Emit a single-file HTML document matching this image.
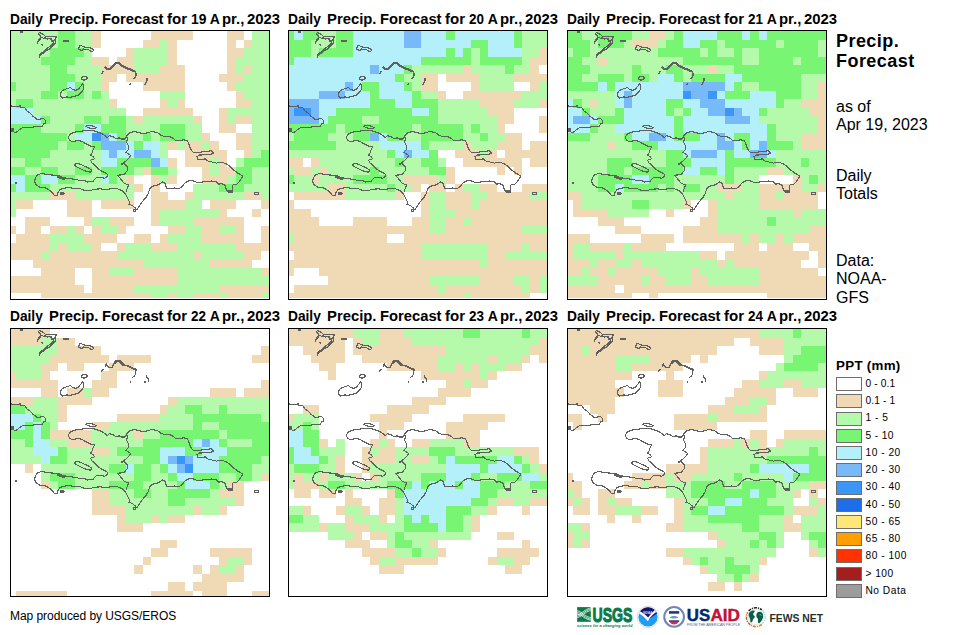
<!DOCTYPE html>
<html><head><meta charset="utf-8"><title>Precip Forecast</title>
<style>
html,body{margin:0;padding:0;background:#fff;}
body{width:970px;height:635px;position:relative;overflow:hidden;font-family:"Liberation Sans",sans-serif;color:#000;}
.p{position:absolute;width:260px;}
.p svg{position:absolute;left:0;top:0;}
.t{position:absolute;font-weight:bold;font-size:14px;white-space:nowrap;line-height:16px;height:16px;width:280px;}
.t span{position:absolute;top:0;display:inline-block;transform-origin:0 0;}
.r{position:absolute;white-space:nowrap;}
.sw{position:absolute;left:836px;width:24px;height:11.4px;border:1px solid #828282;}
.lb{position:absolute;left:865.5px;font-size:10.2px;white-space:nowrap;line-height:12px;}
</style></head><body>

<div class="t" style="left:10px;top:11px"><span style="left:-0.4px;transform:scaleX(0.98)">Daily</span><span style="left:38.8px;transform:scaleX(1.06)">Precip.</span><span style="left:92.0px;transform:scaleX(1.054)">Forecast</span><span style="left:157.2px;transform:scaleX(1.075)">for</span><span style="left:181.0px;transform:scaleX(0.99)">19</span><span style="left:199.8px;transform:scaleX(1.0)">A</span><span style="left:211.6px;transform:scaleX(1.064)">pr.,</span><span style="left:237.0px;transform:scaleX(1.062)">2023</span></div>
<div class="p" style="left:10px;top:30px;height:270px"><svg width="260" height="270" viewBox="0 0 260 270" shape-rendering="crispEdges"><rect x="1" y="1" width="47" height="9" fill="#b4faaa"/><rect x="48" y="1" width="17" height="9" fill="#78f573"/><rect x="65" y="1" width="17" height="9" fill="#b4faaa"/><rect x="82" y="1" width="9" height="9" fill="#f0dab5"/><rect x="141" y="1" width="42" height="9" fill="#f0dab5"/><rect x="217" y="1" width="17" height="9" fill="#f0dab5"/><rect x="242" y="1" width="17" height="9" fill="#b4faaa"/><rect x="1" y="10" width="47" height="8" fill="#b4faaa"/><rect x="48" y="10" width="17" height="8" fill="#78f573"/><rect x="65" y="10" width="17" height="8" fill="#b4faaa"/><rect x="82" y="10" width="9" height="8" fill="#f0dab5"/><rect x="133" y="10" width="17" height="8" fill="#f0dab5"/><rect x="150" y="10" width="8" height="8" fill="#b4faaa"/><rect x="158" y="10" width="9" height="8" fill="#f0dab5"/><rect x="217" y="10" width="9" height="8" fill="#f0dab5"/><rect x="234" y="10" width="8" height="8" fill="#f0dab5"/><rect x="242" y="10" width="17" height="8" fill="#b4faaa"/><rect x="1" y="18" width="39" height="9" fill="#b4faaa"/><rect x="40" y="18" width="34" height="9" fill="#78f573"/><rect x="74" y="18" width="8" height="9" fill="#b4faaa"/><rect x="116" y="18" width="8" height="9" fill="#f0dab5"/><rect x="124" y="18" width="34" height="9" fill="#b4faaa"/><rect x="158" y="18" width="9" height="9" fill="#f0dab5"/><rect x="217" y="18" width="17" height="9" fill="#f0dab5"/><rect x="234" y="18" width="25" height="9" fill="#b4faaa"/><rect x="1" y="27" width="30" height="8" fill="#b4faaa"/><rect x="31" y="27" width="34" height="8" fill="#78f573"/><rect x="65" y="27" width="17" height="8" fill="#b4faaa"/><rect x="82" y="27" width="17" height="8" fill="#f0dab5"/><rect x="107" y="27" width="17" height="8" fill="#f0dab5"/><rect x="124" y="27" width="34" height="8" fill="#b4faaa"/><rect x="158" y="27" width="9" height="8" fill="#f0dab5"/><rect x="217" y="27" width="9" height="8" fill="#f0dab5"/><rect x="226" y="27" width="33" height="8" fill="#b4faaa"/><rect x="1" y="35" width="39" height="9" fill="#b4faaa"/><rect x="40" y="35" width="17" height="9" fill="#78f573"/><rect x="57" y="35" width="34" height="9" fill="#b4faaa"/><rect x="91" y="35" width="33" height="9" fill="#f0dab5"/><rect x="124" y="35" width="26" height="9" fill="#b4faaa"/><rect x="150" y="35" width="25" height="9" fill="#f0dab5"/><rect x="217" y="35" width="9" height="9" fill="#f0dab5"/><rect x="226" y="35" width="8" height="9" fill="#b4faaa"/><rect x="234" y="35" width="8" height="9" fill="#f0dab5"/><rect x="242" y="35" width="17" height="9" fill="#b4faaa"/><rect x="1" y="44" width="39" height="8" fill="#b4faaa"/><rect x="40" y="44" width="25" height="8" fill="#78f573"/><rect x="65" y="44" width="26" height="8" fill="#b4faaa"/><rect x="91" y="44" width="16" height="8" fill="#f0dab5"/><rect x="116" y="44" width="59" height="8" fill="#f0dab5"/><rect x="209" y="44" width="25" height="8" fill="#f0dab5"/><rect x="234" y="44" width="25" height="8" fill="#b4faaa"/><rect x="1" y="52" width="5" height="9" fill="#78f573"/><rect x="6" y="52" width="34" height="9" fill="#b4faaa"/><rect x="40" y="52" width="17" height="9" fill="#78f573"/><rect x="57" y="52" width="8" height="9" fill="#b4f0fa"/><rect x="65" y="52" width="9" height="9" fill="#78f573"/><rect x="74" y="52" width="17" height="9" fill="#b4faaa"/><rect x="91" y="52" width="8" height="9" fill="#f0dab5"/><rect x="133" y="52" width="42" height="9" fill="#f0dab5"/><rect x="217" y="52" width="9" height="9" fill="#f0dab5"/><rect x="226" y="52" width="33" height="9" fill="#b4faaa"/><rect x="1" y="61" width="30" height="8" fill="#b4faaa"/><rect x="31" y="61" width="17" height="8" fill="#78f573"/><rect x="48" y="61" width="9" height="8" fill="#b4faaa"/><rect x="57" y="61" width="17" height="8" fill="#78f573"/><rect x="74" y="61" width="8" height="8" fill="#b4faaa"/><rect x="82" y="61" width="9" height="8" fill="#78f573"/><rect x="91" y="61" width="8" height="8" fill="#b4faaa"/><rect x="150" y="61" width="25" height="8" fill="#b4faaa"/><rect x="226" y="61" width="8" height="8" fill="#f0dab5"/><rect x="234" y="61" width="25" height="8" fill="#b4faaa"/><rect x="1" y="69" width="5" height="9" fill="#b4faaa"/><rect x="6" y="69" width="17" height="9" fill="#78f573"/><rect x="23" y="69" width="76" height="9" fill="#b4faaa"/><rect x="99" y="69" width="8" height="9" fill="#f0dab5"/><rect x="150" y="69" width="8" height="9" fill="#f0dab5"/><rect x="158" y="69" width="9" height="9" fill="#b4faaa"/><rect x="167" y="69" width="8" height="9" fill="#f0dab5"/><rect x="226" y="69" width="16" height="9" fill="#f0dab5"/><rect x="242" y="69" width="17" height="9" fill="#b4faaa"/><rect x="1" y="78" width="22" height="8" fill="#b4f0fa"/><rect x="23" y="78" width="93" height="8" fill="#b4faaa"/><rect x="133" y="78" width="50" height="8" fill="#f0dab5"/><rect x="209" y="78" width="8" height="8" fill="#f0dab5"/><rect x="217" y="78" width="42" height="8" fill="#b4faaa"/><rect x="1" y="86" width="30" height="8" fill="#b4f0fa"/><rect x="31" y="86" width="9" height="8" fill="#78f573"/><rect x="40" y="86" width="34" height="8" fill="#b4faaa"/><rect x="74" y="86" width="17" height="8" fill="#78f573"/><rect x="91" y="86" width="8" height="8" fill="#b4faaa"/><rect x="99" y="86" width="17" height="8" fill="#78f573"/><rect x="116" y="86" width="8" height="8" fill="#b4faaa"/><rect x="124" y="86" width="9" height="8" fill="#f0dab5"/><rect x="133" y="86" width="50" height="8" fill="#b4faaa"/><rect x="183" y="86" width="9" height="8" fill="#f0dab5"/><rect x="209" y="86" width="8" height="8" fill="#f0dab5"/><rect x="217" y="86" width="9" height="8" fill="#b4faaa"/><rect x="226" y="86" width="16" height="8" fill="#f0dab5"/><rect x="242" y="86" width="17" height="8" fill="#b4faaa"/><rect x="1" y="94" width="30" height="9" fill="#78f573"/><rect x="31" y="94" width="34" height="9" fill="#b4faaa"/><rect x="65" y="94" width="9" height="9" fill="#78f573"/><rect x="74" y="94" width="17" height="9" fill="#b4f0fa"/><rect x="91" y="94" width="25" height="9" fill="#78f573"/><rect x="116" y="94" width="34" height="9" fill="#b4faaa"/><rect x="150" y="94" width="25" height="9" fill="#78f573"/><rect x="175" y="94" width="17" height="9" fill="#b4faaa"/><rect x="209" y="94" width="17" height="9" fill="#f0dab5"/><rect x="242" y="94" width="17" height="9" fill="#b4faaa"/><rect x="1" y="103" width="56" height="8" fill="#78f573"/><rect x="57" y="103" width="8" height="8" fill="#b4faaa"/><rect x="65" y="103" width="17" height="8" fill="#b4f0fa"/><rect x="82" y="103" width="9" height="8" fill="#3c96f5"/><rect x="91" y="103" width="8" height="8" fill="#78b9fa"/><rect x="99" y="103" width="8" height="8" fill="#b4f0fa"/><rect x="107" y="103" width="9" height="8" fill="#78f573"/><rect x="116" y="103" width="17" height="8" fill="#b4faaa"/><rect x="133" y="103" width="8" height="8" fill="#78f573"/><rect x="141" y="103" width="9" height="8" fill="#b4faaa"/><rect x="150" y="103" width="25" height="8" fill="#78f573"/><rect x="175" y="103" width="17" height="8" fill="#b4faaa"/><rect x="192" y="103" width="8" height="8" fill="#f0dab5"/><rect x="226" y="103" width="16" height="8" fill="#f0dab5"/><rect x="242" y="103" width="17" height="8" fill="#b4faaa"/><rect x="1" y="111" width="47" height="9" fill="#78f573"/><rect x="48" y="111" width="9" height="9" fill="#b4faaa"/><rect x="57" y="111" width="17" height="9" fill="#78f573"/><rect x="74" y="111" width="8" height="9" fill="#b4faaa"/><rect x="82" y="111" width="9" height="9" fill="#78f573"/><rect x="91" y="111" width="25" height="9" fill="#78b9fa"/><rect x="116" y="111" width="8" height="9" fill="#b4f0fa"/><rect x="124" y="111" width="9" height="9" fill="#78f573"/><rect x="133" y="111" width="17" height="9" fill="#b4f0fa"/><rect x="150" y="111" width="8" height="9" fill="#b4faaa"/><rect x="158" y="111" width="9" height="9" fill="#f0dab5"/><rect x="167" y="111" width="8" height="9" fill="#b4faaa"/><rect x="175" y="111" width="17" height="9" fill="#f0dab5"/><rect x="192" y="111" width="8" height="9" fill="#b4faaa"/><rect x="200" y="111" width="9" height="9" fill="#f0dab5"/><rect x="226" y="111" width="16" height="9" fill="#f0dab5"/><rect x="242" y="111" width="17" height="9" fill="#b4faaa"/><rect x="1" y="120" width="39" height="8" fill="#78f573"/><rect x="40" y="120" width="51" height="8" fill="#b4faaa"/><rect x="91" y="120" width="8" height="8" fill="#b4f0fa"/><rect x="99" y="120" width="8" height="8" fill="#78b9fa"/><rect x="107" y="120" width="17" height="8" fill="#b4f0fa"/><rect x="124" y="120" width="17" height="8" fill="#78b9fa"/><rect x="141" y="120" width="9" height="8" fill="#b4f0fa"/><rect x="150" y="120" width="8" height="8" fill="#b4faaa"/><rect x="175" y="120" width="42" height="8" fill="#f0dab5"/><rect x="234" y="120" width="8" height="8" fill="#f0dab5"/><rect x="242" y="120" width="9" height="8" fill="#b4faaa"/><rect x="251" y="120" width="8" height="8" fill="#78f573"/><rect x="1" y="128" width="14" height="9" fill="#b4faaa"/><rect x="15" y="128" width="16" height="9" fill="#78f573"/><rect x="31" y="128" width="60" height="9" fill="#b4faaa"/><rect x="91" y="128" width="16" height="9" fill="#b4f0fa"/><rect x="107" y="128" width="34" height="9" fill="#78f573"/><rect x="141" y="128" width="9" height="9" fill="#78b9fa"/><rect x="150" y="128" width="8" height="9" fill="#b4f0fa"/><rect x="158" y="128" width="9" height="9" fill="#f0dab5"/><rect x="175" y="128" width="25" height="9" fill="#f0dab5"/><rect x="200" y="128" width="9" height="9" fill="#b4faaa"/><rect x="209" y="128" width="8" height="9" fill="#f0dab5"/><rect x="226" y="128" width="8" height="9" fill="#b4faaa"/><rect x="234" y="128" width="25" height="9" fill="#78f573"/><rect x="1" y="137" width="14" height="8" fill="#78f573"/><rect x="15" y="137" width="16" height="8" fill="#b4faaa"/><rect x="31" y="137" width="17" height="8" fill="#78f573"/><rect x="48" y="137" width="17" height="8" fill="#b4faaa"/><rect x="65" y="137" width="17" height="8" fill="#78f573"/><rect x="82" y="137" width="9" height="8" fill="#b4faaa"/><rect x="91" y="137" width="33" height="8" fill="#78f573"/><rect x="124" y="137" width="9" height="8" fill="#b4faaa"/><rect x="133" y="137" width="8" height="8" fill="#f0dab5"/><rect x="141" y="137" width="17" height="8" fill="#78f573"/><rect x="158" y="137" width="9" height="8" fill="#b4faaa"/><rect x="192" y="137" width="8" height="8" fill="#f0dab5"/><rect x="200" y="137" width="9" height="8" fill="#b4faaa"/><rect x="209" y="137" width="17" height="8" fill="#f0dab5"/><rect x="226" y="137" width="16" height="8" fill="#78f573"/><rect x="242" y="137" width="17" height="8" fill="#b4faaa"/><rect x="1" y="145" width="14" height="9" fill="#b4f0fa"/><rect x="15" y="145" width="16" height="9" fill="#78f573"/><rect x="31" y="145" width="17" height="9" fill="#b4f0fa"/><rect x="48" y="145" width="17" height="9" fill="#78f573"/><rect x="65" y="145" width="26" height="9" fill="#b4faaa"/><rect x="91" y="145" width="8" height="9" fill="#b4f0fa"/><rect x="99" y="145" width="8" height="9" fill="#78f573"/><rect x="107" y="145" width="9" height="9" fill="#b4faaa"/><rect x="116" y="145" width="8" height="9" fill="#f0dab5"/><rect x="141" y="145" width="9" height="9" fill="#f0dab5"/><rect x="150" y="145" width="8" height="9" fill="#b4faaa"/><rect x="158" y="145" width="9" height="9" fill="#f0dab5"/><rect x="192" y="145" width="25" height="9" fill="#f0dab5"/><rect x="217" y="145" width="9" height="9" fill="#b4faaa"/><rect x="226" y="145" width="16" height="9" fill="#78f573"/><rect x="242" y="145" width="17" height="9" fill="#b4faaa"/><rect x="1" y="154" width="5" height="8" fill="#78f573"/><rect x="6" y="154" width="9" height="8" fill="#b4f0fa"/><rect x="15" y="154" width="25" height="8" fill="#78f573"/><rect x="40" y="154" width="84" height="8" fill="#b4faaa"/><rect x="124" y="154" width="9" height="8" fill="#f0dab5"/><rect x="141" y="154" width="9" height="8" fill="#f0dab5"/><rect x="183" y="154" width="26" height="8" fill="#b4faaa"/><rect x="209" y="154" width="25" height="8" fill="#78f573"/><rect x="234" y="154" width="25" height="8" fill="#b4faaa"/><rect x="1" y="162" width="39" height="8" fill="#b4faaa"/><rect x="40" y="162" width="25" height="8" fill="#f0dab5"/><rect x="65" y="162" width="59" height="8" fill="#b4faaa"/><rect x="141" y="162" width="17" height="8" fill="#f0dab5"/><rect x="175" y="162" width="8" height="8" fill="#f0dab5"/><rect x="183" y="162" width="51" height="8" fill="#b4faaa"/><rect x="234" y="162" width="17" height="8" fill="#f0dab5"/><rect x="251" y="162" width="8" height="8" fill="#b4faaa"/><rect x="1" y="170" width="5" height="9" fill="#b4faaa"/><rect x="6" y="170" width="17" height="9" fill="#f0dab5"/><rect x="57" y="170" width="25" height="9" fill="#f0dab5"/><rect x="91" y="170" width="33" height="9" fill="#f0dab5"/><rect x="141" y="170" width="34" height="9" fill="#f0dab5"/><rect x="175" y="170" width="17" height="9" fill="#b4faaa"/><rect x="200" y="170" width="26" height="9" fill="#f0dab5"/><rect x="251" y="170" width="8" height="9" fill="#f0dab5"/><rect x="1" y="179" width="5" height="8" fill="#b4faaa"/><rect x="57" y="179" width="25" height="8" fill="#f0dab5"/><rect x="141" y="179" width="9" height="8" fill="#f0dab5"/><rect x="150" y="179" width="59" height="8" fill="#b4faaa"/><rect x="209" y="179" width="8" height="8" fill="#f0dab5"/><rect x="242" y="179" width="9" height="8" fill="#f0dab5"/><rect x="15" y="187" width="25" height="9" fill="#f0dab5"/><rect x="74" y="187" width="8" height="9" fill="#f0dab5"/><rect x="82" y="187" width="17" height="9" fill="#b4faaa"/><rect x="99" y="187" width="25" height="9" fill="#f0dab5"/><rect x="141" y="187" width="9" height="9" fill="#f0dab5"/><rect x="150" y="187" width="33" height="9" fill="#b4faaa"/><rect x="183" y="187" width="51" height="9" fill="#f0dab5"/><rect x="1" y="196" width="5" height="8" fill="#f0dab5"/><rect x="15" y="196" width="16" height="8" fill="#f0dab5"/><rect x="40" y="196" width="17" height="8" fill="#f0dab5"/><rect x="57" y="196" width="8" height="8" fill="#b4faaa"/><rect x="65" y="196" width="9" height="8" fill="#f0dab5"/><rect x="82" y="196" width="9" height="8" fill="#f0dab5"/><rect x="91" y="196" width="16" height="8" fill="#b4faaa"/><rect x="107" y="196" width="9" height="8" fill="#f0dab5"/><rect x="158" y="196" width="17" height="8" fill="#f0dab5"/><rect x="175" y="196" width="17" height="8" fill="#b4faaa"/><rect x="192" y="196" width="17" height="8" fill="#f0dab5"/><rect x="209" y="196" width="17" height="8" fill="#b4faaa"/><rect x="226" y="196" width="8" height="8" fill="#f0dab5"/><rect x="251" y="196" width="8" height="8" fill="#f0dab5"/><rect x="6" y="204" width="34" height="9" fill="#f0dab5"/><rect x="40" y="204" width="34" height="9" fill="#b4faaa"/><rect x="74" y="204" width="33" height="9" fill="#f0dab5"/><rect x="124" y="204" width="17" height="9" fill="#f0dab5"/><rect x="150" y="204" width="8" height="9" fill="#f0dab5"/><rect x="158" y="204" width="34" height="9" fill="#b4faaa"/><rect x="192" y="204" width="42" height="9" fill="#f0dab5"/><rect x="251" y="204" width="8" height="9" fill="#f0dab5"/><rect x="1" y="213" width="39" height="8" fill="#f0dab5"/><rect x="40" y="213" width="8" height="8" fill="#b4faaa"/><rect x="48" y="213" width="9" height="8" fill="#f0dab5"/><rect x="57" y="213" width="25" height="8" fill="#b4faaa"/><rect x="82" y="213" width="9" height="8" fill="#f0dab5"/><rect x="107" y="213" width="9" height="8" fill="#f0dab5"/><rect x="116" y="213" width="25" height="8" fill="#b4faaa"/><rect x="141" y="213" width="26" height="8" fill="#f0dab5"/><rect x="167" y="213" width="59" height="8" fill="#b4faaa"/><rect x="226" y="213" width="33" height="8" fill="#f0dab5"/><rect x="1" y="221" width="30" height="9" fill="#f0dab5"/><rect x="31" y="221" width="9" height="9" fill="#b4faaa"/><rect x="40" y="221" width="67" height="9" fill="#f0dab5"/><rect x="107" y="221" width="76" height="9" fill="#b4faaa"/><rect x="183" y="221" width="9" height="9" fill="#f0dab5"/><rect x="192" y="221" width="42" height="9" fill="#b4faaa"/><rect x="234" y="221" width="17" height="9" fill="#f0dab5"/><rect x="23" y="230" width="110" height="8" fill="#f0dab5"/><rect x="133" y="230" width="67" height="8" fill="#b4faaa"/><rect x="200" y="230" width="42" height="8" fill="#f0dab5"/><rect x="31" y="238" width="34" height="8" fill="#f0dab5"/><rect x="82" y="238" width="17" height="8" fill="#f0dab5"/><rect x="99" y="238" width="25" height="8" fill="#b4faaa"/><rect x="124" y="238" width="43" height="8" fill="#f0dab5"/><rect x="167" y="238" width="84" height="8" fill="#b4faaa"/><rect x="251" y="238" width="8" height="8" fill="#f0dab5"/><rect x="1" y="246" width="64" height="9" fill="#f0dab5"/><rect x="82" y="246" width="85" height="9" fill="#f0dab5"/><rect x="167" y="246" width="92" height="9" fill="#b4faaa"/><rect x="1" y="255" width="73" height="8" fill="#f0dab5"/><rect x="82" y="255" width="42" height="8" fill="#f0dab5"/><rect x="124" y="255" width="85" height="8" fill="#b4faaa"/><rect x="209" y="255" width="50" height="8" fill="#f0dab5"/><rect x="31" y="263" width="110" height="5" fill="#f0dab5"/><rect x="141" y="263" width="17" height="5" fill="#b4faaa"/><rect x="158" y="263" width="9" height="5" fill="#f0dab5"/><rect x="167" y="263" width="16" height="5" fill="#b4faaa"/><rect x="183" y="263" width="26" height="5" fill="#f0dab5"/><rect x="209" y="263" width="8" height="5" fill="#b4faaa"/><rect x="217" y="263" width="34" height="5" fill="#f0dab5"/><rect x="251" y="263" width="8" height="5" fill="#b4faaa"/></svg>
<svg width="260" height="270" viewBox="0 0 260 270" shape-rendering="crispEdges"><path d="M58.3 107.9 L59.8 104.2 L64.3 102.3 L70.3 101.2 L77.7 100.5 L83.7 100.8 L89.7 102.7 L94.2 105.0 L97.2 107.9 L99.4 105.7 L103.1 106.8 L106.1 108.7 L109.1 107.9 L112.1 109.7 L115.1 109.1 L116.6 105.7 L119.6 102.7 L124.1 101.7 L128.6 102.3 L133.0 103.8 L137.5 102.7 L141.3 101.7 L143.7 101.7 L147.4 102.7 L151.2 105.3 L154.9 106.8 L158.6 106.2 L162.4 107.9 L165.4 110.2 L169.8 110.9 L173.6 109.7 L177.3 110.6 L178.8 113.2 L179.6 116.9 L181.1 119.9 L184.0 122.9 L187.8 122.9 L192.3 121.7 L198.2 121.4 L201.2 120.7 L203.5 122.9 L201.2 124.1 L195.3 124.7 L189.3 125.1 L187.0 126.6 L187.8 129.6 L192.3 129.6 L195.3 128.9 L198.2 131.1 L202.7 132.2 L206.5 133.1 L210.9 132.2 L215.4 133.4 L219.2 135.6 L222.9 139.3 L226.6 142.3 L230.4 144.6 L232.6 146.1 L231.1 149.1 L228.9 152.0 L226.6 154.3 L222.9 155.0 L222.2 158.8 L222.9 161.8 L220.7 162.5 L217.7 161.8 L216.2 158.8 L214.7 155.0 L211.7 153.5 L208.7 154.3 L206.5 152.0 L201.2 151.0 L196.7 151.6 L192.3 152.0 L187.8 152.8 L184.8 151.3 L181.1 150.5 L177.3 151.3 L174.3 153.5 L172.1 156.5 L169.1 158.8 L164.6 158.0 L160.9 158.8 L157.1 158.8 L155.6 155.8 L154.9 152.8 L152.7 152.0 L149.7 154.0 L147.4 155.0 L143.7 155.8 L140.7 157.3 L139.2 160.3 L138.5 163.3 L136.2 167.0 L133.2 170.7 L130.2 174.5 L128.0 178.2 L127.1 180.0 L124.8 177.5 L121.8 175.2 L118.8 174.5 L119.6 172.2 L118.1 169.2 L116.6 166.2 L115.1 163.3 L111.4 160.3 L107.6 158.8 L101.6 158.8 L95.7 159.5 L89.7 158.8 L83.7 159.5 L79.2 161.0 L74.7 160.3 L70.3 158.8 L64.3 158.8 L59.8 157.6 L55.3 158.0 L50.1 159.5 L47.8 162.5 L47.1 165.5 L44.8 165.9 L43.3 164.0 L40.4 161.0 L37.4 158.8 L33.6 157.3 L29.9 157.3 L26.2 155.0 L24.7 152.0 L25.4 147.6 L27.7 144.6 L32.1 143.5 L37.4 144.6 L44.8 145.3 L48.6 145.3 L47.1 146.8 L50.8 148.6 L54.6 149.8 L55.3 148.0 L59.8 148.6 L65.8 149.5 L70.3 150.5 L74.7 150.5 L77.7 152.0 L83.0 151.3 L85.9 148.0 L91.9 147.1 L94.2 148.3 L96.4 147.6 L97.9 144.6 L95.7 143.1 L91.2 140.8 L88.2 138.6 L85.2 135.6 L81.5 132.6 L80.7 130.1 L84.5 128.9 L83.0 126.6 L80.7 125.1 L82.2 122.9 L83.0 119.9 L84.5 116.9 L82.2 116.9 L78.5 115.1 L74.7 113.2 L71.7 111.2 L67.3 110.6 L62.8 111.7 L59.8 110.6 Z M116.6 105.7 L117.3 108.7 L116.6 112.4 L118.1 115.4 L118.1 119.9 L115.8 122.1 L118.1 123.6 L120.8 125.6 L118.8 128.1 L115.8 131.1 L111.4 134.1 L114.3 133.7 L117.3 136.6 L117.3 140.8 L115.1 143.1 L113.6 144.6 L107.6 145.3 L109.9 148.0 L112.1 150.5 L113.6 152.8 L116.6 154.3 L118.8 155.0 L117.3 158.0 L116.1 161.5 M64.3 134.9 L66.5 133.4 L70.3 134.1 L74.7 136.3 L78.5 137.8 L81.5 140.1 L80.7 142.3 L77.0 141.6 L73.2 140.1 L68.8 137.8 L65.8 136.6 Z M75.5 96.3 L77.7 95.2 L83.0 96.0 L86.7 97.8 L83.7 98.7 L79.2 97.9 Z M50.1 163.0 L52.3 162.4 L54.6 163.3 L53.1 164.3 L50.8 164.2 Z M0.0 75.9 L3.7 76.2 L7.4 76.2 L10.2 75.9 L11.1 77.7 L14.8 77.7 L16.7 80.8 L20.4 83.3 L22.9 86.1 L25.4 87.9 L27.2 89.5 L30.3 89.2 L32.2 88.2 L34.3 89.2 L35.7 91.0 L35.6 93.5 L33.4 93.8 L32.5 96.3 L23.5 96.7 L23.2 97.5 L12.7 97.5 L8.7 100.3 L6.2 102.5 L3.7 102.2 M244.9 162.2 L248.5 162.2 L248.5 164.6 L244.9 164.6 Z M123.8 179.4 L125.6 179.4 L125.6 181.2 L123.8 181.2 Z M10.5 1.2 L12.6 1.2 L12.6 2.7 L10.5 2.7 Z M28.3 3.6 L29.4 2.5 L31.9 3.6 L34.1 5.1 L35.5 6.5 L38.0 6.9 L41.6 6.6 L46.7 6.5 L45.6 7.9 L44.9 10.1 L45.3 12.3 L44.9 14.1 L43.1 15.5 L41.3 17.3 L39.5 19.1 L37.3 20.2 L35.5 21.3 L33.7 23.1 L31.5 24.2 L30.1 25.6 L29.7 27.4 L29.0 27.1 L29.7 24.9 L30.8 23.4 L33.0 22.0 L35.2 20.2 L37.0 18.4 L38.8 17.3 L40.9 15.5 L42.7 14.1 L43.8 12.3 L43.1 10.8 L41.6 11.2 L40.9 9.7 L41.6 8.3 L39.5 8.3 L37.3 9.0 L35.5 7.9 L33.3 8.3 L31.5 7.2 L30.5 8.7 L29.0 10.8 L27.2 13.3 L27.2 11.9 L28.7 10.1 L30.1 7.9 L30.8 6.5 L29.4 5.1 Z M31.5 14.3 L32.6 14.8 L32.6 16.2 M68.3 19.1 L69.8 15.5 L71.9 15.9 L74.1 17.0 L77.0 17.3 L79.9 17.7 L82.8 19.1 L83.9 20.6 L82.0 21.6 L79.9 20.9 L78.4 19.1 L75.6 19.3 L73.4 18.9 L71.9 20.6 L69.8 19.5 Z M71.7 47.5 L74.0 46.0 L77.0 47.1 L77.0 49.0 L74.0 50.1 L72.0 49.3 Z M50.8 62.8 L52.3 60.5 L56.1 59.0 L60.5 57.5 L62.8 59.8 L65.8 60.2 L68.8 59.0 L70.3 56.8 L72.5 53.8 L73.7 54.6 L73.2 59.8 L70.3 63.5 L68.0 65.8 L63.5 66.2 L60.5 67.3 L56.8 67.0 L52.3 68.0 L50.5 65.8 Z" fill="none" stroke="#5e5e5e" stroke-width="1.15" stroke-linejoin="round"/><path d="M5.4 152.8 L6.9 152.8" fill="none" stroke="#606060" stroke-width="1.6"/><path d="M53.2 10.8 L59.0 11.0" fill="none" stroke="#606060" stroke-width="1.6"/><path d="M95.2 36.7 L96.7 39.1 L99.6 39.1 L101.7 37.0 L103.9 34.8 L106.8 32.9 L109.7 33.4 L111.8 35.8 L114.7 37.0 L117.6 38.4 L121.2 39.8 L124.8 41.3" fill="none" stroke="#606060" stroke-width="2.3"/><path d="M124.8 41.3 L126.4 43.9 L125.3 47.1 L123.4 49.2" fill="none" stroke="#606060" stroke-width="1.6"/><path d="M91.6 44.2 L93.2 41.3" fill="none" stroke="#606060" stroke-width="1.6"/><path d="M119.5 55.4 L120.5 54.3 L121.5 55.4" fill="none" stroke="#606060" stroke-width="1.2"/><path d="M134.6 55.4 L136.4 51.7 L137.4 47.8" fill="none" stroke="#606060" stroke-width="1.6"/><path d="M47.5 145.6 L50.8 147.1 L54.6 148.6" fill="none" stroke="#606060" stroke-width="2.2"/><path d="M50.5 163.4 L54.1 163.4" fill="none" stroke="#606060" stroke-width="2.0"/><path d="M2.4 97.8 L2.5 101.8" fill="none" stroke="#606060" stroke-width="2.6"/><path d="M217.4 160.6 L222.9 162.1" fill="none" stroke="#606060" stroke-width="2.4"/><path d="M111.4 109.1 L115.1 109.4" fill="none" stroke="#606060" stroke-width="2.0"/><rect x="0.5" y="0.5" width="259" height="269" fill="none" stroke="#000" stroke-width="1" shape-rendering="crispEdges"/></svg></div>
<div class="t" style="left:288px;top:11px"><span style="left:-0.4px;transform:scaleX(0.98)">Daily</span><span style="left:38.8px;transform:scaleX(1.06)">Precip.</span><span style="left:92.0px;transform:scaleX(1.054)">Forecast</span><span style="left:157.2px;transform:scaleX(1.075)">for</span><span style="left:181.3px;transform:scaleX(0.96)">20</span><span style="left:199.8px;transform:scaleX(1.0)">A</span><span style="left:211.6px;transform:scaleX(1.064)">pr.,</span><span style="left:237.0px;transform:scaleX(1.062)">2023</span></div>
<div class="p" style="left:288px;top:30px;height:270px"><svg width="260" height="270" viewBox="0 0 260 270" shape-rendering="crispEdges"><rect x="1" y="1" width="5" height="9" fill="#78f573"/><rect x="6" y="1" width="9" height="9" fill="#b4f0fa"/><rect x="15" y="1" width="16" height="9" fill="#78f573"/><rect x="31" y="1" width="17" height="9" fill="#b4faaa"/><rect x="48" y="1" width="17" height="9" fill="#78f573"/><rect x="65" y="1" width="51" height="9" fill="#b4f0fa"/><rect x="116" y="1" width="17" height="9" fill="#78b9fa"/><rect x="133" y="1" width="25" height="9" fill="#b4f0fa"/><rect x="158" y="1" width="9" height="9" fill="#78f573"/><rect x="167" y="1" width="59" height="9" fill="#b4f0fa"/><rect x="226" y="1" width="8" height="9" fill="#78f573"/><rect x="234" y="1" width="25" height="9" fill="#b4faaa"/><rect x="1" y="10" width="22" height="8" fill="#78f573"/><rect x="23" y="10" width="25" height="8" fill="#b4faaa"/><rect x="48" y="10" width="17" height="8" fill="#78f573"/><rect x="65" y="10" width="51" height="8" fill="#b4f0fa"/><rect x="116" y="10" width="17" height="8" fill="#78b9fa"/><rect x="133" y="10" width="50" height="8" fill="#b4f0fa"/><rect x="183" y="10" width="17" height="8" fill="#78f573"/><rect x="200" y="10" width="26" height="8" fill="#b4f0fa"/><rect x="226" y="10" width="8" height="8" fill="#78f573"/><rect x="234" y="10" width="25" height="8" fill="#b4faaa"/><rect x="1" y="18" width="22" height="9" fill="#78f573"/><rect x="23" y="18" width="8" height="9" fill="#b4faaa"/><rect x="31" y="18" width="34" height="9" fill="#78f573"/><rect x="65" y="18" width="93" height="9" fill="#b4f0fa"/><rect x="158" y="18" width="9" height="9" fill="#78f573"/><rect x="167" y="18" width="8" height="9" fill="#b4f0fa"/><rect x="175" y="18" width="8" height="9" fill="#78f573"/><rect x="183" y="18" width="9" height="9" fill="#b4faaa"/><rect x="192" y="18" width="8" height="9" fill="#78f573"/><rect x="200" y="18" width="34" height="9" fill="#b4f0fa"/><rect x="234" y="18" width="17" height="9" fill="#b4faaa"/><rect x="251" y="18" width="8" height="9" fill="#f0dab5"/><rect x="1" y="27" width="5" height="8" fill="#78f573"/><rect x="6" y="27" width="127" height="8" fill="#b4f0fa"/><rect x="133" y="27" width="50" height="8" fill="#78f573"/><rect x="183" y="27" width="9" height="8" fill="#b4faaa"/><rect x="192" y="27" width="42" height="8" fill="#78f573"/><rect x="234" y="27" width="8" height="8" fill="#b4faaa"/><rect x="242" y="27" width="17" height="8" fill="#f0dab5"/><rect x="1" y="35" width="81" height="9" fill="#b4f0fa"/><rect x="82" y="35" width="9" height="9" fill="#78b9fa"/><rect x="91" y="35" width="25" height="9" fill="#b4f0fa"/><rect x="116" y="35" width="8" height="9" fill="#78f573"/><rect x="124" y="35" width="51" height="9" fill="#b4faaa"/><rect x="175" y="35" width="8" height="9" fill="#f0dab5"/><rect x="183" y="35" width="34" height="9" fill="#b4faaa"/><rect x="217" y="35" width="9" height="9" fill="#78f573"/><rect x="226" y="35" width="16" height="9" fill="#b4faaa"/><rect x="242" y="35" width="9" height="9" fill="#f0dab5"/><rect x="1" y="44" width="106" height="8" fill="#b4f0fa"/><rect x="107" y="44" width="9" height="8" fill="#78f573"/><rect x="116" y="44" width="17" height="8" fill="#b4faaa"/><rect x="133" y="44" width="17" height="8" fill="#f0dab5"/><rect x="158" y="44" width="34" height="8" fill="#f0dab5"/><rect x="192" y="44" width="34" height="8" fill="#b4faaa"/><rect x="226" y="44" width="33" height="8" fill="#f0dab5"/><rect x="1" y="52" width="56" height="9" fill="#b4f0fa"/><rect x="57" y="52" width="8" height="9" fill="#78b9fa"/><rect x="65" y="52" width="9" height="9" fill="#b4f0fa"/><rect x="74" y="52" width="17" height="9" fill="#78f573"/><rect x="91" y="52" width="25" height="9" fill="#b4f0fa"/><rect x="116" y="52" width="8" height="9" fill="#78f573"/><rect x="124" y="52" width="9" height="9" fill="#b4faaa"/><rect x="133" y="52" width="17" height="9" fill="#f0dab5"/><rect x="183" y="52" width="9" height="9" fill="#f0dab5"/><rect x="192" y="52" width="34" height="9" fill="#b4faaa"/><rect x="242" y="52" width="9" height="9" fill="#f0dab5"/><rect x="251" y="52" width="8" height="9" fill="#b4faaa"/><rect x="1" y="61" width="30" height="8" fill="#b4f0fa"/><rect x="31" y="61" width="26" height="8" fill="#78b9fa"/><rect x="57" y="61" width="25" height="8" fill="#b4f0fa"/><rect x="82" y="61" width="9" height="8" fill="#78f573"/><rect x="91" y="61" width="33" height="8" fill="#b4f0fa"/><rect x="124" y="61" width="9" height="8" fill="#78f573"/><rect x="133" y="61" width="17" height="8" fill="#b4faaa"/><rect x="150" y="61" width="8" height="8" fill="#f0dab5"/><rect x="175" y="61" width="59" height="8" fill="#f0dab5"/><rect x="234" y="61" width="25" height="8" fill="#b4faaa"/><rect x="1" y="69" width="30" height="9" fill="#78b9fa"/><rect x="31" y="69" width="51" height="9" fill="#b4f0fa"/><rect x="82" y="69" width="25" height="9" fill="#78f573"/><rect x="107" y="69" width="17" height="9" fill="#b4f0fa"/><rect x="124" y="69" width="26" height="9" fill="#78f573"/><rect x="150" y="69" width="42" height="9" fill="#b4faaa"/><rect x="192" y="69" width="34" height="9" fill="#f0dab5"/><rect x="226" y="69" width="25" height="9" fill="#b4faaa"/><rect x="251" y="69" width="8" height="9" fill="#f0dab5"/><rect x="1" y="78" width="5" height="8" fill="#78b9fa"/><rect x="6" y="78" width="17" height="8" fill="#3c96f5"/><rect x="23" y="78" width="8" height="8" fill="#78b9fa"/><rect x="31" y="78" width="17" height="8" fill="#b4f0fa"/><rect x="48" y="78" width="76" height="8" fill="#78f573"/><rect x="124" y="78" width="17" height="8" fill="#b4f0fa"/><rect x="141" y="78" width="9" height="8" fill="#78f573"/><rect x="150" y="78" width="50" height="8" fill="#b4faaa"/><rect x="200" y="78" width="26" height="8" fill="#f0dab5"/><rect x="1" y="86" width="30" height="8" fill="#78b9fa"/><rect x="31" y="86" width="9" height="8" fill="#b4f0fa"/><rect x="40" y="86" width="34" height="8" fill="#78f573"/><rect x="74" y="86" width="17" height="8" fill="#b4faaa"/><rect x="91" y="86" width="59" height="8" fill="#78f573"/><rect x="150" y="86" width="59" height="8" fill="#b4faaa"/><rect x="209" y="86" width="17" height="8" fill="#f0dab5"/><rect x="251" y="86" width="8" height="8" fill="#f0dab5"/><rect x="1" y="94" width="47" height="9" fill="#78f573"/><rect x="48" y="94" width="9" height="9" fill="#b4faaa"/><rect x="57" y="94" width="67" height="9" fill="#78f573"/><rect x="124" y="94" width="9" height="9" fill="#b4faaa"/><rect x="133" y="94" width="42" height="9" fill="#78f573"/><rect x="175" y="94" width="8" height="9" fill="#b4faaa"/><rect x="183" y="94" width="9" height="9" fill="#78f573"/><rect x="192" y="94" width="17" height="9" fill="#b4faaa"/><rect x="209" y="94" width="8" height="9" fill="#f0dab5"/><rect x="251" y="94" width="8" height="9" fill="#f0dab5"/><rect x="1" y="103" width="5" height="8" fill="#b4faaa"/><rect x="6" y="103" width="34" height="8" fill="#78f573"/><rect x="40" y="103" width="25" height="8" fill="#b4faaa"/><rect x="65" y="103" width="17" height="8" fill="#78f573"/><rect x="82" y="103" width="9" height="8" fill="#78b9fa"/><rect x="91" y="103" width="8" height="8" fill="#b4f0fa"/><rect x="99" y="103" width="17" height="8" fill="#78f573"/><rect x="116" y="103" width="17" height="8" fill="#b4faaa"/><rect x="133" y="103" width="42" height="8" fill="#78f573"/><rect x="175" y="103" width="17" height="8" fill="#b4faaa"/><rect x="192" y="103" width="8" height="8" fill="#78f573"/><rect x="200" y="103" width="17" height="8" fill="#b4faaa"/><rect x="217" y="103" width="17" height="8" fill="#f0dab5"/><rect x="1" y="111" width="47" height="9" fill="#78f573"/><rect x="48" y="111" width="43" height="9" fill="#b4faaa"/><rect x="91" y="111" width="42" height="9" fill="#b4f0fa"/><rect x="133" y="111" width="8" height="9" fill="#78f573"/><rect x="141" y="111" width="34" height="9" fill="#b4faaa"/><rect x="175" y="111" width="8" height="9" fill="#f0dab5"/><rect x="183" y="111" width="26" height="9" fill="#b4faaa"/><rect x="209" y="111" width="25" height="9" fill="#f0dab5"/><rect x="242" y="111" width="17" height="9" fill="#f0dab5"/><rect x="1" y="120" width="98" height="8" fill="#b4faaa"/><rect x="99" y="120" width="8" height="8" fill="#78f573"/><rect x="107" y="120" width="9" height="8" fill="#b4f0fa"/><rect x="116" y="120" width="8" height="8" fill="#78b9fa"/><rect x="124" y="120" width="17" height="8" fill="#b4f0fa"/><rect x="141" y="120" width="9" height="8" fill="#78f573"/><rect x="167" y="120" width="25" height="8" fill="#f0dab5"/><rect x="192" y="120" width="8" height="8" fill="#b4faaa"/><rect x="200" y="120" width="9" height="8" fill="#f0dab5"/><rect x="217" y="120" width="42" height="8" fill="#f0dab5"/><rect x="1" y="128" width="14" height="9" fill="#f0dab5"/><rect x="23" y="128" width="8" height="9" fill="#f0dab5"/><rect x="31" y="128" width="76" height="9" fill="#b4faaa"/><rect x="107" y="128" width="9" height="9" fill="#78f573"/><rect x="116" y="128" width="17" height="9" fill="#b4faaa"/><rect x="133" y="128" width="17" height="9" fill="#78f573"/><rect x="150" y="128" width="8" height="9" fill="#b4faaa"/><rect x="175" y="128" width="59" height="9" fill="#f0dab5"/><rect x="242" y="128" width="17" height="9" fill="#f0dab5"/><rect x="1" y="137" width="5" height="8" fill="#b4faaa"/><rect x="6" y="137" width="17" height="8" fill="#f0dab5"/><rect x="23" y="137" width="8" height="8" fill="#b4faaa"/><rect x="31" y="137" width="9" height="8" fill="#f0dab5"/><rect x="40" y="137" width="42" height="8" fill="#b4faaa"/><rect x="82" y="137" width="9" height="8" fill="#78f573"/><rect x="91" y="137" width="50" height="8" fill="#b4faaa"/><rect x="141" y="137" width="17" height="8" fill="#78f573"/><rect x="158" y="137" width="9" height="8" fill="#f0dab5"/><rect x="209" y="137" width="8" height="8" fill="#f0dab5"/><rect x="226" y="137" width="8" height="8" fill="#f0dab5"/><rect x="1" y="145" width="5" height="9" fill="#78f573"/><rect x="6" y="145" width="17" height="9" fill="#b4faaa"/><rect x="23" y="145" width="8" height="9" fill="#f0dab5"/><rect x="31" y="145" width="34" height="9" fill="#b4faaa"/><rect x="65" y="145" width="34" height="9" fill="#78f573"/><rect x="99" y="145" width="17" height="9" fill="#b4faaa"/><rect x="116" y="145" width="34" height="9" fill="#f0dab5"/><rect x="150" y="145" width="8" height="9" fill="#b4faaa"/><rect x="158" y="145" width="9" height="9" fill="#f0dab5"/><rect x="1" y="154" width="39" height="8" fill="#b4faaa"/><rect x="40" y="154" width="17" height="8" fill="#f0dab5"/><rect x="57" y="154" width="42" height="8" fill="#b4faaa"/><rect x="99" y="154" width="8" height="8" fill="#78f573"/><rect x="107" y="154" width="17" height="8" fill="#b4faaa"/><rect x="124" y="154" width="9" height="8" fill="#f0dab5"/><rect x="141" y="154" width="17" height="8" fill="#f0dab5"/><rect x="167" y="154" width="8" height="8" fill="#f0dab5"/><rect x="175" y="154" width="17" height="8" fill="#b4faaa"/><rect x="192" y="154" width="17" height="8" fill="#f0dab5"/><rect x="234" y="154" width="25" height="8" fill="#f0dab5"/><rect x="6" y="162" width="51" height="8" fill="#f0dab5"/><rect x="57" y="162" width="50" height="8" fill="#b4faaa"/><rect x="107" y="162" width="9" height="8" fill="#f0dab5"/><rect x="133" y="162" width="8" height="8" fill="#f0dab5"/><rect x="141" y="162" width="17" height="8" fill="#b4faaa"/><rect x="158" y="162" width="25" height="8" fill="#f0dab5"/><rect x="183" y="162" width="17" height="8" fill="#b4faaa"/><rect x="200" y="162" width="42" height="8" fill="#f0dab5"/><rect x="242" y="162" width="17" height="8" fill="#b4faaa"/><rect x="1" y="170" width="5" height="9" fill="#f0dab5"/><rect x="133" y="170" width="8" height="9" fill="#f0dab5"/><rect x="141" y="170" width="17" height="9" fill="#b4faaa"/><rect x="158" y="170" width="25" height="9" fill="#f0dab5"/><rect x="183" y="170" width="9" height="9" fill="#b4faaa"/><rect x="192" y="170" width="67" height="9" fill="#f0dab5"/><rect x="1" y="179" width="22" height="8" fill="#f0dab5"/><rect x="133" y="179" width="8" height="8" fill="#f0dab5"/><rect x="141" y="179" width="26" height="8" fill="#b4faaa"/><rect x="167" y="179" width="92" height="8" fill="#f0dab5"/><rect x="1" y="187" width="30" height="9" fill="#f0dab5"/><rect x="65" y="187" width="34" height="9" fill="#f0dab5"/><rect x="124" y="187" width="17" height="9" fill="#f0dab5"/><rect x="141" y="187" width="17" height="9" fill="#b4faaa"/><rect x="158" y="187" width="17" height="9" fill="#f0dab5"/><rect x="175" y="187" width="8" height="9" fill="#b4faaa"/><rect x="183" y="187" width="76" height="9" fill="#f0dab5"/><rect x="1" y="196" width="140" height="8" fill="#f0dab5"/><rect x="141" y="196" width="17" height="8" fill="#b4faaa"/><rect x="158" y="196" width="76" height="8" fill="#f0dab5"/><rect x="234" y="196" width="25" height="8" fill="#b4faaa"/><rect x="1" y="204" width="5" height="9" fill="#b4faaa"/><rect x="6" y="204" width="93" height="9" fill="#f0dab5"/><rect x="116" y="204" width="143" height="9" fill="#f0dab5"/><rect x="1" y="213" width="132" height="8" fill="#f0dab5"/><rect x="133" y="213" width="67" height="8" fill="#b4faaa"/><rect x="200" y="213" width="34" height="8" fill="#f0dab5"/><rect x="234" y="213" width="8" height="8" fill="#b4faaa"/><rect x="242" y="213" width="17" height="8" fill="#f0dab5"/><rect x="6" y="221" width="127" height="9" fill="#f0dab5"/><rect x="133" y="221" width="67" height="9" fill="#b4faaa"/><rect x="200" y="221" width="17" height="9" fill="#f0dab5"/><rect x="217" y="221" width="42" height="9" fill="#b4faaa"/><rect x="1" y="230" width="191" height="8" fill="#f0dab5"/><rect x="192" y="230" width="8" height="8" fill="#b4faaa"/><rect x="200" y="230" width="59" height="8" fill="#f0dab5"/><rect x="1" y="238" width="5" height="8" fill="#f0dab5"/><rect x="31" y="238" width="228" height="8" fill="#f0dab5"/><rect x="40" y="246" width="101" height="9" fill="#f0dab5"/><rect x="141" y="246" width="51" height="9" fill="#b4faaa"/><rect x="192" y="246" width="34" height="9" fill="#f0dab5"/><rect x="226" y="246" width="16" height="9" fill="#b4faaa"/><rect x="242" y="246" width="9" height="9" fill="#f0dab5"/><rect x="251" y="246" width="8" height="9" fill="#b4faaa"/><rect x="6" y="255" width="144" height="8" fill="#f0dab5"/><rect x="150" y="255" width="8" height="8" fill="#b4faaa"/><rect x="158" y="255" width="76" height="8" fill="#f0dab5"/><rect x="234" y="255" width="8" height="8" fill="#b4faaa"/><rect x="242" y="255" width="9" height="8" fill="#f0dab5"/><rect x="251" y="255" width="8" height="8" fill="#b4faaa"/><rect x="1" y="263" width="174" height="5" fill="#f0dab5"/><rect x="175" y="263" width="8" height="5" fill="#b4faaa"/><rect x="183" y="263" width="59" height="5" fill="#f0dab5"/></svg>
<svg width="260" height="270" viewBox="0 0 260 270" shape-rendering="crispEdges"><path d="M58.3 107.9 L59.8 104.2 L64.3 102.3 L70.3 101.2 L77.7 100.5 L83.7 100.8 L89.7 102.7 L94.2 105.0 L97.2 107.9 L99.4 105.7 L103.1 106.8 L106.1 108.7 L109.1 107.9 L112.1 109.7 L115.1 109.1 L116.6 105.7 L119.6 102.7 L124.1 101.7 L128.6 102.3 L133.0 103.8 L137.5 102.7 L141.3 101.7 L143.7 101.7 L147.4 102.7 L151.2 105.3 L154.9 106.8 L158.6 106.2 L162.4 107.9 L165.4 110.2 L169.8 110.9 L173.6 109.7 L177.3 110.6 L178.8 113.2 L179.6 116.9 L181.1 119.9 L184.0 122.9 L187.8 122.9 L192.3 121.7 L198.2 121.4 L201.2 120.7 L203.5 122.9 L201.2 124.1 L195.3 124.7 L189.3 125.1 L187.0 126.6 L187.8 129.6 L192.3 129.6 L195.3 128.9 L198.2 131.1 L202.7 132.2 L206.5 133.1 L210.9 132.2 L215.4 133.4 L219.2 135.6 L222.9 139.3 L226.6 142.3 L230.4 144.6 L232.6 146.1 L231.1 149.1 L228.9 152.0 L226.6 154.3 L222.9 155.0 L222.2 158.8 L222.9 161.8 L220.7 162.5 L217.7 161.8 L216.2 158.8 L214.7 155.0 L211.7 153.5 L208.7 154.3 L206.5 152.0 L201.2 151.0 L196.7 151.6 L192.3 152.0 L187.8 152.8 L184.8 151.3 L181.1 150.5 L177.3 151.3 L174.3 153.5 L172.1 156.5 L169.1 158.8 L164.6 158.0 L160.9 158.8 L157.1 158.8 L155.6 155.8 L154.9 152.8 L152.7 152.0 L149.7 154.0 L147.4 155.0 L143.7 155.8 L140.7 157.3 L139.2 160.3 L138.5 163.3 L136.2 167.0 L133.2 170.7 L130.2 174.5 L128.0 178.2 L127.1 180.0 L124.8 177.5 L121.8 175.2 L118.8 174.5 L119.6 172.2 L118.1 169.2 L116.6 166.2 L115.1 163.3 L111.4 160.3 L107.6 158.8 L101.6 158.8 L95.7 159.5 L89.7 158.8 L83.7 159.5 L79.2 161.0 L74.7 160.3 L70.3 158.8 L64.3 158.8 L59.8 157.6 L55.3 158.0 L50.1 159.5 L47.8 162.5 L47.1 165.5 L44.8 165.9 L43.3 164.0 L40.4 161.0 L37.4 158.8 L33.6 157.3 L29.9 157.3 L26.2 155.0 L24.7 152.0 L25.4 147.6 L27.7 144.6 L32.1 143.5 L37.4 144.6 L44.8 145.3 L48.6 145.3 L47.1 146.8 L50.8 148.6 L54.6 149.8 L55.3 148.0 L59.8 148.6 L65.8 149.5 L70.3 150.5 L74.7 150.5 L77.7 152.0 L83.0 151.3 L85.9 148.0 L91.9 147.1 L94.2 148.3 L96.4 147.6 L97.9 144.6 L95.7 143.1 L91.2 140.8 L88.2 138.6 L85.2 135.6 L81.5 132.6 L80.7 130.1 L84.5 128.9 L83.0 126.6 L80.7 125.1 L82.2 122.9 L83.0 119.9 L84.5 116.9 L82.2 116.9 L78.5 115.1 L74.7 113.2 L71.7 111.2 L67.3 110.6 L62.8 111.7 L59.8 110.6 Z M116.6 105.7 L117.3 108.7 L116.6 112.4 L118.1 115.4 L118.1 119.9 L115.8 122.1 L118.1 123.6 L120.8 125.6 L118.8 128.1 L115.8 131.1 L111.4 134.1 L114.3 133.7 L117.3 136.6 L117.3 140.8 L115.1 143.1 L113.6 144.6 L107.6 145.3 L109.9 148.0 L112.1 150.5 L113.6 152.8 L116.6 154.3 L118.8 155.0 L117.3 158.0 L116.1 161.5 M64.3 134.9 L66.5 133.4 L70.3 134.1 L74.7 136.3 L78.5 137.8 L81.5 140.1 L80.7 142.3 L77.0 141.6 L73.2 140.1 L68.8 137.8 L65.8 136.6 Z M75.5 96.3 L77.7 95.2 L83.0 96.0 L86.7 97.8 L83.7 98.7 L79.2 97.9 Z M50.1 163.0 L52.3 162.4 L54.6 163.3 L53.1 164.3 L50.8 164.2 Z M0.0 75.9 L3.7 76.2 L7.4 76.2 L10.2 75.9 L11.1 77.7 L14.8 77.7 L16.7 80.8 L20.4 83.3 L22.9 86.1 L25.4 87.9 L27.2 89.5 L30.3 89.2 L32.2 88.2 L34.3 89.2 L35.7 91.0 L35.6 93.5 L33.4 93.8 L32.5 96.3 L23.5 96.7 L23.2 97.5 L12.7 97.5 L8.7 100.3 L6.2 102.5 L3.7 102.2 M244.9 162.2 L248.5 162.2 L248.5 164.6 L244.9 164.6 Z M123.8 179.4 L125.6 179.4 L125.6 181.2 L123.8 181.2 Z M10.5 1.2 L12.6 1.2 L12.6 2.7 L10.5 2.7 Z M28.3 3.6 L29.4 2.5 L31.9 3.6 L34.1 5.1 L35.5 6.5 L38.0 6.9 L41.6 6.6 L46.7 6.5 L45.6 7.9 L44.9 10.1 L45.3 12.3 L44.9 14.1 L43.1 15.5 L41.3 17.3 L39.5 19.1 L37.3 20.2 L35.5 21.3 L33.7 23.1 L31.5 24.2 L30.1 25.6 L29.7 27.4 L29.0 27.1 L29.7 24.9 L30.8 23.4 L33.0 22.0 L35.2 20.2 L37.0 18.4 L38.8 17.3 L40.9 15.5 L42.7 14.1 L43.8 12.3 L43.1 10.8 L41.6 11.2 L40.9 9.7 L41.6 8.3 L39.5 8.3 L37.3 9.0 L35.5 7.9 L33.3 8.3 L31.5 7.2 L30.5 8.7 L29.0 10.8 L27.2 13.3 L27.2 11.9 L28.7 10.1 L30.1 7.9 L30.8 6.5 L29.4 5.1 Z M31.5 14.3 L32.6 14.8 L32.6 16.2 M68.3 19.1 L69.8 15.5 L71.9 15.9 L74.1 17.0 L77.0 17.3 L79.9 17.7 L82.8 19.1 L83.9 20.6 L82.0 21.6 L79.9 20.9 L78.4 19.1 L75.6 19.3 L73.4 18.9 L71.9 20.6 L69.8 19.5 Z M71.7 47.5 L74.0 46.0 L77.0 47.1 L77.0 49.0 L74.0 50.1 L72.0 49.3 Z M50.8 62.8 L52.3 60.5 L56.1 59.0 L60.5 57.5 L62.8 59.8 L65.8 60.2 L68.8 59.0 L70.3 56.8 L72.5 53.8 L73.7 54.6 L73.2 59.8 L70.3 63.5 L68.0 65.8 L63.5 66.2 L60.5 67.3 L56.8 67.0 L52.3 68.0 L50.5 65.8 Z" fill="none" stroke="#5e5e5e" stroke-width="1.15" stroke-linejoin="round"/><path d="M5.4 152.8 L6.9 152.8" fill="none" stroke="#606060" stroke-width="1.6"/><path d="M53.2 10.8 L59.0 11.0" fill="none" stroke="#606060" stroke-width="1.6"/><path d="M95.2 36.7 L96.7 39.1 L99.6 39.1 L101.7 37.0 L103.9 34.8 L106.8 32.9 L109.7 33.4 L111.8 35.8 L114.7 37.0 L117.6 38.4 L121.2 39.8 L124.8 41.3" fill="none" stroke="#606060" stroke-width="2.3"/><path d="M124.8 41.3 L126.4 43.9 L125.3 47.1 L123.4 49.2" fill="none" stroke="#606060" stroke-width="1.6"/><path d="M91.6 44.2 L93.2 41.3" fill="none" stroke="#606060" stroke-width="1.6"/><path d="M119.5 55.4 L120.5 54.3 L121.5 55.4" fill="none" stroke="#606060" stroke-width="1.2"/><path d="M134.6 55.4 L136.4 51.7 L137.4 47.8" fill="none" stroke="#606060" stroke-width="1.6"/><path d="M47.5 145.6 L50.8 147.1 L54.6 148.6" fill="none" stroke="#606060" stroke-width="2.2"/><path d="M50.5 163.4 L54.1 163.4" fill="none" stroke="#606060" stroke-width="2.0"/><path d="M2.4 97.8 L2.5 101.8" fill="none" stroke="#606060" stroke-width="2.6"/><path d="M217.4 160.6 L222.9 162.1" fill="none" stroke="#606060" stroke-width="2.4"/><path d="M111.4 109.1 L115.1 109.4" fill="none" stroke="#606060" stroke-width="2.0"/><rect x="0.5" y="0.5" width="259" height="269" fill="none" stroke="#000" stroke-width="1" shape-rendering="crispEdges"/></svg></div>
<div class="t" style="left:567px;top:11px"><span style="left:-0.4px;transform:scaleX(0.98)">Daily</span><span style="left:38.8px;transform:scaleX(1.06)">Precip.</span><span style="left:92.0px;transform:scaleX(1.054)">Forecast</span><span style="left:157.2px;transform:scaleX(1.075)">for</span><span style="left:181.3px;transform:scaleX(0.96)">21</span><span style="left:199.8px;transform:scaleX(1.0)">A</span><span style="left:211.6px;transform:scaleX(1.064)">pr.,</span><span style="left:237.0px;transform:scaleX(1.062)">2023</span></div>
<div class="p" style="left:567px;top:30px;height:270px"><svg width="260" height="270" viewBox="0 0 260 270" shape-rendering="crispEdges"><rect x="1" y="1" width="14" height="9" fill="#78f573"/><rect x="15" y="1" width="16" height="9" fill="#b4faaa"/><rect x="31" y="1" width="34" height="9" fill="#78f573"/><rect x="65" y="1" width="17" height="9" fill="#b4faaa"/><rect x="82" y="1" width="17" height="9" fill="#f0dab5"/><rect x="99" y="1" width="8" height="9" fill="#b4faaa"/><rect x="107" y="1" width="9" height="9" fill="#78f573"/><rect x="116" y="1" width="34" height="9" fill="#b4f0fa"/><rect x="150" y="1" width="25" height="9" fill="#78f573"/><rect x="175" y="1" width="8" height="9" fill="#b4f0fa"/><rect x="183" y="1" width="9" height="9" fill="#78f573"/><rect x="192" y="1" width="8" height="9" fill="#b4f0fa"/><rect x="200" y="1" width="59" height="9" fill="#78f573"/><rect x="1" y="10" width="22" height="8" fill="#78f573"/><rect x="23" y="10" width="8" height="8" fill="#b4faaa"/><rect x="31" y="10" width="26" height="8" fill="#78f573"/><rect x="57" y="10" width="8" height="8" fill="#b4faaa"/><rect x="65" y="10" width="26" height="8" fill="#f0dab5"/><rect x="91" y="10" width="8" height="8" fill="#b4faaa"/><rect x="99" y="10" width="17" height="8" fill="#78f573"/><rect x="116" y="10" width="17" height="8" fill="#b4f0fa"/><rect x="133" y="10" width="17" height="8" fill="#78f573"/><rect x="150" y="10" width="8" height="8" fill="#b4faaa"/><rect x="158" y="10" width="51" height="8" fill="#78f573"/><rect x="209" y="10" width="8" height="8" fill="#b4faaa"/><rect x="217" y="10" width="34" height="8" fill="#78f573"/><rect x="251" y="10" width="8" height="8" fill="#b4faaa"/><rect x="1" y="18" width="5" height="9" fill="#b4faaa"/><rect x="6" y="18" width="17" height="9" fill="#78f573"/><rect x="23" y="18" width="68" height="9" fill="#b4faaa"/><rect x="91" y="18" width="42" height="9" fill="#78f573"/><rect x="133" y="18" width="8" height="9" fill="#b4faaa"/><rect x="141" y="18" width="9" height="9" fill="#78f573"/><rect x="150" y="18" width="17" height="9" fill="#b4faaa"/><rect x="167" y="18" width="8" height="9" fill="#78f573"/><rect x="175" y="18" width="17" height="9" fill="#b4faaa"/><rect x="192" y="18" width="59" height="9" fill="#78f573"/><rect x="251" y="18" width="8" height="9" fill="#b4faaa"/><rect x="1" y="27" width="14" height="8" fill="#78f573"/><rect x="15" y="27" width="16" height="8" fill="#b4faaa"/><rect x="31" y="27" width="9" height="8" fill="#f0dab5"/><rect x="40" y="27" width="76" height="8" fill="#b4faaa"/><rect x="116" y="27" width="59" height="8" fill="#78f573"/><rect x="175" y="27" width="17" height="8" fill="#b4faaa"/><rect x="192" y="27" width="34" height="8" fill="#78f573"/><rect x="226" y="27" width="8" height="8" fill="#b4faaa"/><rect x="234" y="27" width="25" height="8" fill="#78f573"/><rect x="1" y="35" width="22" height="9" fill="#78f573"/><rect x="23" y="35" width="42" height="9" fill="#b4faaa"/><rect x="65" y="35" width="9" height="9" fill="#78f573"/><rect x="74" y="35" width="25" height="9" fill="#b4faaa"/><rect x="99" y="35" width="17" height="9" fill="#78f573"/><rect x="116" y="35" width="25" height="9" fill="#b4faaa"/><rect x="141" y="35" width="9" height="9" fill="#f0dab5"/><rect x="150" y="35" width="17" height="9" fill="#b4faaa"/><rect x="167" y="35" width="92" height="9" fill="#78f573"/><rect x="1" y="44" width="14" height="8" fill="#78f573"/><rect x="15" y="44" width="16" height="8" fill="#b4faaa"/><rect x="31" y="44" width="26" height="8" fill="#78f573"/><rect x="57" y="44" width="8" height="8" fill="#b4faaa"/><rect x="65" y="44" width="17" height="8" fill="#78f573"/><rect x="82" y="44" width="9" height="8" fill="#b4faaa"/><rect x="91" y="44" width="16" height="8" fill="#b4f0fa"/><rect x="107" y="44" width="9" height="8" fill="#78f573"/><rect x="116" y="44" width="8" height="8" fill="#b4faaa"/><rect x="124" y="44" width="34" height="8" fill="#78f573"/><rect x="158" y="44" width="17" height="8" fill="#b4f0fa"/><rect x="175" y="44" width="59" height="8" fill="#78f573"/><rect x="234" y="44" width="25" height="8" fill="#b4faaa"/><rect x="1" y="52" width="30" height="9" fill="#78f573"/><rect x="31" y="52" width="9" height="9" fill="#b4f0fa"/><rect x="40" y="52" width="8" height="9" fill="#78f573"/><rect x="48" y="52" width="68" height="9" fill="#b4f0fa"/><rect x="116" y="52" width="42" height="9" fill="#78b9fa"/><rect x="158" y="52" width="9" height="9" fill="#b4f0fa"/><rect x="167" y="52" width="8" height="9" fill="#78f573"/><rect x="175" y="52" width="17" height="9" fill="#b4faaa"/><rect x="192" y="52" width="42" height="9" fill="#78f573"/><rect x="234" y="52" width="17" height="9" fill="#b4faaa"/><rect x="251" y="52" width="8" height="9" fill="#f0dab5"/><rect x="1" y="61" width="47" height="8" fill="#b4faaa"/><rect x="48" y="61" width="9" height="8" fill="#b4f0fa"/><rect x="57" y="61" width="8" height="8" fill="#78b9fa"/><rect x="65" y="61" width="51" height="8" fill="#b4f0fa"/><rect x="116" y="61" width="8" height="8" fill="#3c96f5"/><rect x="124" y="61" width="17" height="8" fill="#78b9fa"/><rect x="141" y="61" width="9" height="8" fill="#3c96f5"/><rect x="150" y="61" width="8" height="8" fill="#b4f0fa"/><rect x="158" y="61" width="25" height="8" fill="#78f573"/><rect x="183" y="61" width="26" height="8" fill="#b4f0fa"/><rect x="209" y="61" width="25" height="8" fill="#78f573"/><rect x="234" y="61" width="17" height="8" fill="#b4faaa"/><rect x="251" y="61" width="8" height="8" fill="#f0dab5"/><rect x="1" y="69" width="5" height="9" fill="#b4f0fa"/><rect x="6" y="69" width="9" height="9" fill="#78f573"/><rect x="15" y="69" width="8" height="9" fill="#b4faaa"/><rect x="23" y="69" width="8" height="9" fill="#f0dab5"/><rect x="31" y="69" width="17" height="9" fill="#b4faaa"/><rect x="48" y="69" width="9" height="9" fill="#b4f0fa"/><rect x="57" y="69" width="8" height="9" fill="#78b9fa"/><rect x="65" y="69" width="34" height="9" fill="#b4f0fa"/><rect x="99" y="69" width="17" height="9" fill="#78f573"/><rect x="116" y="69" width="17" height="9" fill="#b4f0fa"/><rect x="133" y="69" width="25" height="9" fill="#78b9fa"/><rect x="158" y="69" width="51" height="9" fill="#b4f0fa"/><rect x="209" y="69" width="8" height="9" fill="#78f573"/><rect x="217" y="69" width="17" height="9" fill="#b4faaa"/><rect x="234" y="69" width="25" height="9" fill="#f0dab5"/><rect x="1" y="78" width="14" height="8" fill="#b4f0fa"/><rect x="15" y="78" width="8" height="8" fill="#78f573"/><rect x="23" y="78" width="25" height="8" fill="#b4faaa"/><rect x="48" y="78" width="9" height="8" fill="#78f573"/><rect x="57" y="78" width="42" height="8" fill="#b4f0fa"/><rect x="99" y="78" width="8" height="8" fill="#78f573"/><rect x="107" y="78" width="9" height="8" fill="#b4faaa"/><rect x="116" y="78" width="8" height="8" fill="#78f573"/><rect x="124" y="78" width="17" height="8" fill="#b4f0fa"/><rect x="141" y="78" width="17" height="8" fill="#78b9fa"/><rect x="158" y="78" width="9" height="8" fill="#3c96f5"/><rect x="167" y="78" width="8" height="8" fill="#78b9fa"/><rect x="175" y="78" width="17" height="8" fill="#b4f0fa"/><rect x="192" y="78" width="8" height="8" fill="#78f573"/><rect x="200" y="78" width="42" height="8" fill="#b4faaa"/><rect x="242" y="78" width="17" height="8" fill="#f0dab5"/><rect x="1" y="86" width="5" height="8" fill="#b4f0fa"/><rect x="6" y="86" width="17" height="8" fill="#78b9fa"/><rect x="23" y="86" width="8" height="8" fill="#b4f0fa"/><rect x="31" y="86" width="26" height="8" fill="#78f573"/><rect x="57" y="86" width="50" height="8" fill="#b4f0fa"/><rect x="107" y="86" width="9" height="8" fill="#78f573"/><rect x="116" y="86" width="42" height="8" fill="#b4f0fa"/><rect x="158" y="86" width="25" height="8" fill="#78b9fa"/><rect x="183" y="86" width="9" height="8" fill="#b4f0fa"/><rect x="192" y="86" width="59" height="8" fill="#b4faaa"/><rect x="251" y="86" width="8" height="8" fill="#f0dab5"/><rect x="1" y="94" width="22" height="9" fill="#b4f0fa"/><rect x="23" y="94" width="8" height="9" fill="#78f573"/><rect x="31" y="94" width="17" height="9" fill="#b4faaa"/><rect x="48" y="94" width="59" height="9" fill="#b4f0fa"/><rect x="107" y="94" width="9" height="9" fill="#78f573"/><rect x="116" y="94" width="84" height="9" fill="#b4f0fa"/><rect x="200" y="94" width="9" height="9" fill="#78f573"/><rect x="209" y="94" width="42" height="9" fill="#b4faaa"/><rect x="251" y="94" width="8" height="9" fill="#f0dab5"/><rect x="1" y="103" width="22" height="8" fill="#78f573"/><rect x="23" y="103" width="34" height="8" fill="#b4faaa"/><rect x="57" y="103" width="8" height="8" fill="#78f573"/><rect x="65" y="103" width="17" height="8" fill="#b4f0fa"/><rect x="82" y="103" width="17" height="8" fill="#78b9fa"/><rect x="99" y="103" width="8" height="8" fill="#b4f0fa"/><rect x="107" y="103" width="26" height="8" fill="#78f573"/><rect x="133" y="103" width="17" height="8" fill="#b4f0fa"/><rect x="150" y="103" width="8" height="8" fill="#78b9fa"/><rect x="158" y="103" width="9" height="8" fill="#b4f0fa"/><rect x="167" y="103" width="16" height="8" fill="#78f573"/><rect x="183" y="103" width="17" height="8" fill="#b4f0fa"/><rect x="200" y="103" width="9" height="8" fill="#78f573"/><rect x="209" y="103" width="25" height="8" fill="#b4faaa"/><rect x="234" y="103" width="25" height="8" fill="#f0dab5"/><rect x="1" y="111" width="39" height="9" fill="#b4faaa"/><rect x="40" y="111" width="8" height="9" fill="#f0dab5"/><rect x="48" y="111" width="17" height="9" fill="#b4faaa"/><rect x="65" y="111" width="26" height="9" fill="#78f573"/><rect x="91" y="111" width="59" height="9" fill="#b4f0fa"/><rect x="150" y="111" width="17" height="9" fill="#78b9fa"/><rect x="167" y="111" width="8" height="9" fill="#b4f0fa"/><rect x="175" y="111" width="8" height="9" fill="#78f573"/><rect x="183" y="111" width="9" height="9" fill="#b4f0fa"/><rect x="192" y="111" width="8" height="9" fill="#78b9fa"/><rect x="200" y="111" width="26" height="9" fill="#78f573"/><rect x="226" y="111" width="8" height="9" fill="#b4faaa"/><rect x="234" y="111" width="25" height="9" fill="#f0dab5"/><rect x="1" y="120" width="98" height="8" fill="#b4faaa"/><rect x="99" y="120" width="17" height="8" fill="#78f573"/><rect x="116" y="120" width="8" height="8" fill="#b4f0fa"/><rect x="124" y="120" width="26" height="8" fill="#78b9fa"/><rect x="150" y="120" width="8" height="8" fill="#b4f0fa"/><rect x="158" y="120" width="9" height="8" fill="#78f573"/><rect x="167" y="120" width="16" height="8" fill="#b4f0fa"/><rect x="183" y="120" width="17" height="8" fill="#78b9fa"/><rect x="200" y="120" width="9" height="8" fill="#b4f0fa"/><rect x="209" y="120" width="50" height="8" fill="#b4faaa"/><rect x="1" y="128" width="39" height="9" fill="#b4faaa"/><rect x="40" y="128" width="25" height="9" fill="#78f573"/><rect x="65" y="128" width="34" height="9" fill="#b4faaa"/><rect x="99" y="128" width="25" height="9" fill="#78f573"/><rect x="124" y="128" width="34" height="9" fill="#b4f0fa"/><rect x="158" y="128" width="51" height="9" fill="#78f573"/><rect x="209" y="128" width="25" height="9" fill="#b4faaa"/><rect x="234" y="128" width="8" height="9" fill="#78f573"/><rect x="242" y="128" width="17" height="9" fill="#b4faaa"/><rect x="1" y="137" width="39" height="8" fill="#b4faaa"/><rect x="40" y="137" width="17" height="8" fill="#78f573"/><rect x="57" y="137" width="8" height="8" fill="#b4faaa"/><rect x="65" y="137" width="51" height="8" fill="#78f573"/><rect x="116" y="137" width="17" height="8" fill="#b4f0fa"/><rect x="133" y="137" width="17" height="8" fill="#78f573"/><rect x="150" y="137" width="8" height="8" fill="#b4f0fa"/><rect x="158" y="137" width="9" height="8" fill="#78f573"/><rect x="167" y="137" width="33" height="8" fill="#b4faaa"/><rect x="200" y="137" width="17" height="8" fill="#f0dab5"/><rect x="217" y="137" width="42" height="8" fill="#b4faaa"/><rect x="1" y="145" width="30" height="9" fill="#b4faaa"/><rect x="31" y="145" width="34" height="9" fill="#78f573"/><rect x="65" y="145" width="17" height="9" fill="#b4f0fa"/><rect x="82" y="145" width="25" height="9" fill="#78f573"/><rect x="107" y="145" width="51" height="9" fill="#b4faaa"/><rect x="158" y="145" width="9" height="9" fill="#78f573"/><rect x="167" y="145" width="25" height="9" fill="#b4faaa"/><rect x="226" y="145" width="8" height="9" fill="#f0dab5"/><rect x="234" y="145" width="8" height="9" fill="#b4faaa"/><rect x="242" y="145" width="9" height="9" fill="#78f573"/><rect x="251" y="145" width="8" height="9" fill="#b4faaa"/><rect x="1" y="154" width="30" height="8" fill="#b4faaa"/><rect x="31" y="154" width="17" height="8" fill="#78f573"/><rect x="48" y="154" width="9" height="8" fill="#b4f0fa"/><rect x="57" y="154" width="34" height="8" fill="#78f573"/><rect x="91" y="154" width="8" height="8" fill="#b4faaa"/><rect x="99" y="154" width="8" height="8" fill="#78f573"/><rect x="107" y="154" width="9" height="8" fill="#b4faaa"/><rect x="116" y="154" width="17" height="8" fill="#78f573"/><rect x="133" y="154" width="17" height="8" fill="#b4faaa"/><rect x="150" y="154" width="25" height="8" fill="#f0dab5"/><rect x="175" y="154" width="17" height="8" fill="#b4faaa"/><rect x="192" y="154" width="42" height="8" fill="#f0dab5"/><rect x="234" y="154" width="17" height="8" fill="#b4faaa"/><rect x="251" y="154" width="8" height="8" fill="#f0dab5"/><rect x="1" y="162" width="14" height="8" fill="#f0dab5"/><rect x="15" y="162" width="143" height="8" fill="#b4faaa"/><rect x="158" y="162" width="9" height="8" fill="#f0dab5"/><rect x="167" y="162" width="25" height="8" fill="#b4faaa"/><rect x="192" y="162" width="17" height="8" fill="#f0dab5"/><rect x="209" y="162" width="8" height="8" fill="#b4faaa"/><rect x="217" y="162" width="34" height="8" fill="#f0dab5"/><rect x="6" y="170" width="9" height="9" fill="#f0dab5"/><rect x="15" y="170" width="50" height="9" fill="#b4faaa"/><rect x="65" y="170" width="17" height="9" fill="#78f573"/><rect x="82" y="170" width="34" height="9" fill="#b4faaa"/><rect x="116" y="170" width="8" height="9" fill="#f0dab5"/><rect x="141" y="170" width="9" height="9" fill="#f0dab5"/><rect x="150" y="170" width="42" height="9" fill="#b4faaa"/><rect x="192" y="170" width="59" height="9" fill="#f0dab5"/><rect x="6" y="179" width="34" height="8" fill="#f0dab5"/><rect x="40" y="179" width="42" height="8" fill="#b4faaa"/><rect x="99" y="179" width="8" height="8" fill="#f0dab5"/><rect x="141" y="179" width="9" height="8" fill="#f0dab5"/><rect x="150" y="179" width="76" height="8" fill="#b4faaa"/><rect x="226" y="179" width="8" height="8" fill="#f0dab5"/><rect x="234" y="179" width="25" height="8" fill="#b4faaa"/><rect x="31" y="187" width="26" height="9" fill="#f0dab5"/><rect x="133" y="187" width="17" height="9" fill="#f0dab5"/><rect x="150" y="187" width="50" height="9" fill="#b4faaa"/><rect x="200" y="187" width="9" height="9" fill="#78f573"/><rect x="209" y="187" width="50" height="9" fill="#b4faaa"/><rect x="48" y="196" width="26" height="8" fill="#f0dab5"/><rect x="116" y="196" width="34" height="8" fill="#f0dab5"/><rect x="150" y="196" width="92" height="8" fill="#b4faaa"/><rect x="242" y="196" width="17" height="8" fill="#f0dab5"/><rect x="1" y="204" width="22" height="9" fill="#f0dab5"/><rect x="74" y="204" width="33" height="9" fill="#f0dab5"/><rect x="116" y="204" width="59" height="9" fill="#f0dab5"/><rect x="175" y="204" width="8" height="9" fill="#b4faaa"/><rect x="183" y="204" width="9" height="9" fill="#f0dab5"/><rect x="192" y="204" width="17" height="9" fill="#b4faaa"/><rect x="209" y="204" width="8" height="9" fill="#f0dab5"/><rect x="217" y="204" width="9" height="9" fill="#b4faaa"/><rect x="226" y="204" width="33" height="9" fill="#f0dab5"/><rect x="1" y="213" width="5" height="8" fill="#f0dab5"/><rect x="6" y="213" width="17" height="8" fill="#b4faaa"/><rect x="23" y="213" width="34" height="8" fill="#f0dab5"/><rect x="57" y="213" width="8" height="8" fill="#b4faaa"/><rect x="65" y="213" width="34" height="8" fill="#f0dab5"/><rect x="167" y="213" width="25" height="8" fill="#f0dab5"/><rect x="200" y="213" width="26" height="8" fill="#f0dab5"/><rect x="242" y="213" width="17" height="8" fill="#f0dab5"/><rect x="1" y="221" width="5" height="9" fill="#f0dab5"/><rect x="6" y="221" width="42" height="9" fill="#b4faaa"/><rect x="48" y="221" width="9" height="9" fill="#f0dab5"/><rect x="57" y="221" width="76" height="9" fill="#b4faaa"/><rect x="133" y="221" width="17" height="9" fill="#f0dab5"/><rect x="158" y="221" width="84" height="9" fill="#f0dab5"/><rect x="251" y="221" width="8" height="9" fill="#f0dab5"/><rect x="1" y="230" width="22" height="8" fill="#f0dab5"/><rect x="23" y="230" width="8" height="8" fill="#b4faaa"/><rect x="31" y="230" width="17" height="8" fill="#f0dab5"/><rect x="48" y="230" width="17" height="8" fill="#b4faaa"/><rect x="65" y="230" width="9" height="8" fill="#f0dab5"/><rect x="74" y="230" width="76" height="8" fill="#b4faaa"/><rect x="150" y="230" width="8" height="8" fill="#f0dab5"/><rect x="158" y="230" width="9" height="8" fill="#b4faaa"/><rect x="167" y="230" width="67" height="8" fill="#f0dab5"/><rect x="251" y="230" width="8" height="8" fill="#f0dab5"/><rect x="1" y="238" width="14" height="8" fill="#f0dab5"/><rect x="15" y="238" width="8" height="8" fill="#b4faaa"/><rect x="23" y="238" width="17" height="8" fill="#f0dab5"/><rect x="40" y="238" width="8" height="8" fill="#b4faaa"/><rect x="48" y="238" width="43" height="8" fill="#f0dab5"/><rect x="91" y="238" width="33" height="8" fill="#b4faaa"/><rect x="124" y="238" width="9" height="8" fill="#f0dab5"/><rect x="133" y="238" width="59" height="8" fill="#b4faaa"/><rect x="192" y="238" width="59" height="8" fill="#f0dab5"/><rect x="1" y="246" width="30" height="9" fill="#b4faaa"/><rect x="31" y="246" width="43" height="9" fill="#f0dab5"/><rect x="74" y="246" width="8" height="9" fill="#b4faaa"/><rect x="82" y="246" width="17" height="9" fill="#f0dab5"/><rect x="99" y="246" width="25" height="9" fill="#b4faaa"/><rect x="124" y="246" width="17" height="9" fill="#f0dab5"/><rect x="141" y="246" width="51" height="9" fill="#b4faaa"/><rect x="192" y="246" width="67" height="9" fill="#f0dab5"/><rect x="1" y="255" width="47" height="8" fill="#f0dab5"/><rect x="57" y="255" width="202" height="8" fill="#f0dab5"/><rect x="1" y="263" width="64" height="5" fill="#f0dab5"/><rect x="82" y="263" width="9" height="5" fill="#f0dab5"/><rect x="200" y="263" width="59" height="5" fill="#f0dab5"/></svg>
<svg width="260" height="270" viewBox="0 0 260 270" shape-rendering="crispEdges"><path d="M58.3 107.9 L59.8 104.2 L64.3 102.3 L70.3 101.2 L77.7 100.5 L83.7 100.8 L89.7 102.7 L94.2 105.0 L97.2 107.9 L99.4 105.7 L103.1 106.8 L106.1 108.7 L109.1 107.9 L112.1 109.7 L115.1 109.1 L116.6 105.7 L119.6 102.7 L124.1 101.7 L128.6 102.3 L133.0 103.8 L137.5 102.7 L141.3 101.7 L143.7 101.7 L147.4 102.7 L151.2 105.3 L154.9 106.8 L158.6 106.2 L162.4 107.9 L165.4 110.2 L169.8 110.9 L173.6 109.7 L177.3 110.6 L178.8 113.2 L179.6 116.9 L181.1 119.9 L184.0 122.9 L187.8 122.9 L192.3 121.7 L198.2 121.4 L201.2 120.7 L203.5 122.9 L201.2 124.1 L195.3 124.7 L189.3 125.1 L187.0 126.6 L187.8 129.6 L192.3 129.6 L195.3 128.9 L198.2 131.1 L202.7 132.2 L206.5 133.1 L210.9 132.2 L215.4 133.4 L219.2 135.6 L222.9 139.3 L226.6 142.3 L230.4 144.6 L232.6 146.1 L231.1 149.1 L228.9 152.0 L226.6 154.3 L222.9 155.0 L222.2 158.8 L222.9 161.8 L220.7 162.5 L217.7 161.8 L216.2 158.8 L214.7 155.0 L211.7 153.5 L208.7 154.3 L206.5 152.0 L201.2 151.0 L196.7 151.6 L192.3 152.0 L187.8 152.8 L184.8 151.3 L181.1 150.5 L177.3 151.3 L174.3 153.5 L172.1 156.5 L169.1 158.8 L164.6 158.0 L160.9 158.8 L157.1 158.8 L155.6 155.8 L154.9 152.8 L152.7 152.0 L149.7 154.0 L147.4 155.0 L143.7 155.8 L140.7 157.3 L139.2 160.3 L138.5 163.3 L136.2 167.0 L133.2 170.7 L130.2 174.5 L128.0 178.2 L127.1 180.0 L124.8 177.5 L121.8 175.2 L118.8 174.5 L119.6 172.2 L118.1 169.2 L116.6 166.2 L115.1 163.3 L111.4 160.3 L107.6 158.8 L101.6 158.8 L95.7 159.5 L89.7 158.8 L83.7 159.5 L79.2 161.0 L74.7 160.3 L70.3 158.8 L64.3 158.8 L59.8 157.6 L55.3 158.0 L50.1 159.5 L47.8 162.5 L47.1 165.5 L44.8 165.9 L43.3 164.0 L40.4 161.0 L37.4 158.8 L33.6 157.3 L29.9 157.3 L26.2 155.0 L24.7 152.0 L25.4 147.6 L27.7 144.6 L32.1 143.5 L37.4 144.6 L44.8 145.3 L48.6 145.3 L47.1 146.8 L50.8 148.6 L54.6 149.8 L55.3 148.0 L59.8 148.6 L65.8 149.5 L70.3 150.5 L74.7 150.5 L77.7 152.0 L83.0 151.3 L85.9 148.0 L91.9 147.1 L94.2 148.3 L96.4 147.6 L97.9 144.6 L95.7 143.1 L91.2 140.8 L88.2 138.6 L85.2 135.6 L81.5 132.6 L80.7 130.1 L84.5 128.9 L83.0 126.6 L80.7 125.1 L82.2 122.9 L83.0 119.9 L84.5 116.9 L82.2 116.9 L78.5 115.1 L74.7 113.2 L71.7 111.2 L67.3 110.6 L62.8 111.7 L59.8 110.6 Z M116.6 105.7 L117.3 108.7 L116.6 112.4 L118.1 115.4 L118.1 119.9 L115.8 122.1 L118.1 123.6 L120.8 125.6 L118.8 128.1 L115.8 131.1 L111.4 134.1 L114.3 133.7 L117.3 136.6 L117.3 140.8 L115.1 143.1 L113.6 144.6 L107.6 145.3 L109.9 148.0 L112.1 150.5 L113.6 152.8 L116.6 154.3 L118.8 155.0 L117.3 158.0 L116.1 161.5 M64.3 134.9 L66.5 133.4 L70.3 134.1 L74.7 136.3 L78.5 137.8 L81.5 140.1 L80.7 142.3 L77.0 141.6 L73.2 140.1 L68.8 137.8 L65.8 136.6 Z M75.5 96.3 L77.7 95.2 L83.0 96.0 L86.7 97.8 L83.7 98.7 L79.2 97.9 Z M50.1 163.0 L52.3 162.4 L54.6 163.3 L53.1 164.3 L50.8 164.2 Z M0.0 75.9 L3.7 76.2 L7.4 76.2 L10.2 75.9 L11.1 77.7 L14.8 77.7 L16.7 80.8 L20.4 83.3 L22.9 86.1 L25.4 87.9 L27.2 89.5 L30.3 89.2 L32.2 88.2 L34.3 89.2 L35.7 91.0 L35.6 93.5 L33.4 93.8 L32.5 96.3 L23.5 96.7 L23.2 97.5 L12.7 97.5 L8.7 100.3 L6.2 102.5 L3.7 102.2 M244.9 162.2 L248.5 162.2 L248.5 164.6 L244.9 164.6 Z M123.8 179.4 L125.6 179.4 L125.6 181.2 L123.8 181.2 Z M10.5 1.2 L12.6 1.2 L12.6 2.7 L10.5 2.7 Z M28.3 3.6 L29.4 2.5 L31.9 3.6 L34.1 5.1 L35.5 6.5 L38.0 6.9 L41.6 6.6 L46.7 6.5 L45.6 7.9 L44.9 10.1 L45.3 12.3 L44.9 14.1 L43.1 15.5 L41.3 17.3 L39.5 19.1 L37.3 20.2 L35.5 21.3 L33.7 23.1 L31.5 24.2 L30.1 25.6 L29.7 27.4 L29.0 27.1 L29.7 24.9 L30.8 23.4 L33.0 22.0 L35.2 20.2 L37.0 18.4 L38.8 17.3 L40.9 15.5 L42.7 14.1 L43.8 12.3 L43.1 10.8 L41.6 11.2 L40.9 9.7 L41.6 8.3 L39.5 8.3 L37.3 9.0 L35.5 7.9 L33.3 8.3 L31.5 7.2 L30.5 8.7 L29.0 10.8 L27.2 13.3 L27.2 11.9 L28.7 10.1 L30.1 7.9 L30.8 6.5 L29.4 5.1 Z M31.5 14.3 L32.6 14.8 L32.6 16.2 M68.3 19.1 L69.8 15.5 L71.9 15.9 L74.1 17.0 L77.0 17.3 L79.9 17.7 L82.8 19.1 L83.9 20.6 L82.0 21.6 L79.9 20.9 L78.4 19.1 L75.6 19.3 L73.4 18.9 L71.9 20.6 L69.8 19.5 Z M71.7 47.5 L74.0 46.0 L77.0 47.1 L77.0 49.0 L74.0 50.1 L72.0 49.3 Z M50.8 62.8 L52.3 60.5 L56.1 59.0 L60.5 57.5 L62.8 59.8 L65.8 60.2 L68.8 59.0 L70.3 56.8 L72.5 53.8 L73.7 54.6 L73.2 59.8 L70.3 63.5 L68.0 65.8 L63.5 66.2 L60.5 67.3 L56.8 67.0 L52.3 68.0 L50.5 65.8 Z" fill="none" stroke="#5e5e5e" stroke-width="1.15" stroke-linejoin="round"/><path d="M5.4 152.8 L6.9 152.8" fill="none" stroke="#606060" stroke-width="1.6"/><path d="M53.2 10.8 L59.0 11.0" fill="none" stroke="#606060" stroke-width="1.6"/><path d="M95.2 36.7 L96.7 39.1 L99.6 39.1 L101.7 37.0 L103.9 34.8 L106.8 32.9 L109.7 33.4 L111.8 35.8 L114.7 37.0 L117.6 38.4 L121.2 39.8 L124.8 41.3" fill="none" stroke="#606060" stroke-width="2.3"/><path d="M124.8 41.3 L126.4 43.9 L125.3 47.1 L123.4 49.2" fill="none" stroke="#606060" stroke-width="1.6"/><path d="M91.6 44.2 L93.2 41.3" fill="none" stroke="#606060" stroke-width="1.6"/><path d="M119.5 55.4 L120.5 54.3 L121.5 55.4" fill="none" stroke="#606060" stroke-width="1.2"/><path d="M134.6 55.4 L136.4 51.7 L137.4 47.8" fill="none" stroke="#606060" stroke-width="1.6"/><path d="M47.5 145.6 L50.8 147.1 L54.6 148.6" fill="none" stroke="#606060" stroke-width="2.2"/><path d="M50.5 163.4 L54.1 163.4" fill="none" stroke="#606060" stroke-width="2.0"/><path d="M2.4 97.8 L2.5 101.8" fill="none" stroke="#606060" stroke-width="2.6"/><path d="M217.4 160.6 L222.9 162.1" fill="none" stroke="#606060" stroke-width="2.4"/><path d="M111.4 109.1 L115.1 109.4" fill="none" stroke="#606060" stroke-width="2.0"/><rect x="0.5" y="0.5" width="259" height="269" fill="none" stroke="#000" stroke-width="1" shape-rendering="crispEdges"/></svg></div>
<div class="t" style="left:10px;top:308px"><span style="left:-0.4px;transform:scaleX(0.98)">Daily</span><span style="left:38.8px;transform:scaleX(1.06)">Precip.</span><span style="left:92.0px;transform:scaleX(1.054)">Forecast</span><span style="left:157.2px;transform:scaleX(1.075)">for</span><span style="left:181.3px;transform:scaleX(0.96)">22</span><span style="left:199.8px;transform:scaleX(1.0)">A</span><span style="left:211.6px;transform:scaleX(1.064)">pr.,</span><span style="left:237.0px;transform:scaleX(1.062)">2023</span></div>
<div class="p" style="left:10px;top:328px;height:269px"><svg width="260" height="269" viewBox="0 0 260 269" shape-rendering="crispEdges"><rect x="1" y="1" width="39" height="9" fill="#f0dab5"/><rect x="1" y="10" width="30" height="8" fill="#f0dab5"/><rect x="31" y="10" width="17" height="8" fill="#b4faaa"/><rect x="48" y="10" width="17" height="8" fill="#f0dab5"/><rect x="1" y="18" width="47" height="9" fill="#b4faaa"/><rect x="48" y="18" width="43" height="9" fill="#f0dab5"/><rect x="251" y="18" width="8" height="9" fill="#f0dab5"/><rect x="1" y="27" width="39" height="8" fill="#b4faaa"/><rect x="40" y="27" width="59" height="8" fill="#f0dab5"/><rect x="107" y="27" width="34" height="8" fill="#f0dab5"/><rect x="242" y="27" width="17" height="8" fill="#f0dab5"/><rect x="1" y="35" width="30" height="8" fill="#b4faaa"/><rect x="31" y="35" width="17" height="8" fill="#f0dab5"/><rect x="57" y="35" width="17" height="8" fill="#f0dab5"/><rect x="99" y="35" width="25" height="8" fill="#f0dab5"/><rect x="1" y="43" width="5" height="9" fill="#f0dab5"/><rect x="6" y="43" width="25" height="9" fill="#b4faaa"/><rect x="31" y="43" width="9" height="9" fill="#f0dab5"/><rect x="91" y="43" width="16" height="9" fill="#f0dab5"/><rect x="1" y="52" width="47" height="8" fill="#f0dab5"/><rect x="82" y="52" width="25" height="8" fill="#f0dab5"/><rect x="251" y="52" width="8" height="8" fill="#f0dab5"/><rect x="31" y="60" width="17" height="9" fill="#f0dab5"/><rect x="57" y="60" width="17" height="9" fill="#f0dab5"/><rect x="74" y="60" width="8" height="9" fill="#b4faaa"/><rect x="82" y="60" width="17" height="9" fill="#f0dab5"/><rect x="200" y="60" width="26" height="9" fill="#f0dab5"/><rect x="234" y="60" width="25" height="9" fill="#f0dab5"/><rect x="1" y="69" width="22" height="8" fill="#f0dab5"/><rect x="23" y="69" width="25" height="8" fill="#b4faaa"/><rect x="48" y="69" width="34" height="8" fill="#f0dab5"/><rect x="158" y="69" width="9" height="8" fill="#f0dab5"/><rect x="167" y="69" width="92" height="8" fill="#b4faaa"/><rect x="1" y="77" width="14" height="9" fill="#78f573"/><rect x="15" y="77" width="33" height="9" fill="#b4faaa"/><rect x="48" y="77" width="9" height="9" fill="#f0dab5"/><rect x="150" y="77" width="8" height="9" fill="#f0dab5"/><rect x="158" y="77" width="17" height="9" fill="#b4faaa"/><rect x="175" y="77" width="17" height="9" fill="#78f573"/><rect x="192" y="77" width="17" height="9" fill="#b4faaa"/><rect x="209" y="77" width="8" height="9" fill="#78f573"/><rect x="217" y="77" width="42" height="9" fill="#b4faaa"/><rect x="1" y="86" width="22" height="8" fill="#b4f0fa"/><rect x="23" y="86" width="8" height="8" fill="#78f573"/><rect x="31" y="86" width="17" height="8" fill="#b4faaa"/><rect x="48" y="86" width="9" height="8" fill="#f0dab5"/><rect x="107" y="86" width="43" height="8" fill="#f0dab5"/><rect x="150" y="86" width="33" height="8" fill="#b4faaa"/><rect x="183" y="86" width="68" height="8" fill="#78f573"/><rect x="251" y="86" width="8" height="8" fill="#b4faaa"/><rect x="1" y="94" width="14" height="8" fill="#b4f0fa"/><rect x="15" y="94" width="8" height="8" fill="#78f573"/><rect x="23" y="94" width="8" height="8" fill="#b4f0fa"/><rect x="31" y="94" width="9" height="8" fill="#78f573"/><rect x="40" y="94" width="8" height="8" fill="#b4faaa"/><rect x="82" y="94" width="17" height="8" fill="#f0dab5"/><rect x="99" y="94" width="84" height="8" fill="#b4faaa"/><rect x="183" y="94" width="9" height="8" fill="#78f573"/><rect x="192" y="94" width="17" height="8" fill="#b4faaa"/><rect x="209" y="94" width="50" height="8" fill="#78f573"/><rect x="1" y="102" width="22" height="9" fill="#78f573"/><rect x="23" y="102" width="8" height="9" fill="#b4f0fa"/><rect x="31" y="102" width="9" height="9" fill="#78f573"/><rect x="40" y="102" width="42" height="9" fill="#f0dab5"/><rect x="82" y="102" width="42" height="9" fill="#b4faaa"/><rect x="124" y="102" width="9" height="9" fill="#f0dab5"/><rect x="133" y="102" width="17" height="9" fill="#b4faaa"/><rect x="150" y="102" width="59" height="9" fill="#78f573"/><rect x="209" y="102" width="8" height="9" fill="#b4faaa"/><rect x="217" y="102" width="42" height="9" fill="#78f573"/><rect x="1" y="111" width="14" height="8" fill="#b4faaa"/><rect x="15" y="111" width="8" height="8" fill="#78f573"/><rect x="23" y="111" width="17" height="8" fill="#b4f0fa"/><rect x="40" y="111" width="17" height="8" fill="#b4faaa"/><rect x="57" y="111" width="25" height="8" fill="#f0dab5"/><rect x="82" y="111" width="51" height="8" fill="#b4faaa"/><rect x="133" y="111" width="50" height="8" fill="#78f573"/><rect x="183" y="111" width="9" height="8" fill="#b4f0fa"/><rect x="192" y="111" width="8" height="8" fill="#78b9fa"/><rect x="200" y="111" width="9" height="8" fill="#b4f0fa"/><rect x="209" y="111" width="8" height="8" fill="#78f573"/><rect x="217" y="111" width="25" height="8" fill="#b4faaa"/><rect x="242" y="111" width="17" height="8" fill="#78f573"/><rect x="1" y="119" width="22" height="9" fill="#b4faaa"/><rect x="23" y="119" width="25" height="9" fill="#b4f0fa"/><rect x="48" y="119" width="9" height="9" fill="#78f573"/><rect x="57" y="119" width="25" height="9" fill="#b4faaa"/><rect x="82" y="119" width="17" height="9" fill="#f0dab5"/><rect x="99" y="119" width="8" height="9" fill="#b4faaa"/><rect x="107" y="119" width="43" height="9" fill="#78f573"/><rect x="150" y="119" width="25" height="9" fill="#b4f0fa"/><rect x="175" y="119" width="17" height="9" fill="#78f573"/><rect x="192" y="119" width="25" height="9" fill="#b4f0fa"/><rect x="217" y="119" width="42" height="9" fill="#78f573"/><rect x="1" y="128" width="30" height="8" fill="#b4faaa"/><rect x="31" y="128" width="9" height="8" fill="#b4f0fa"/><rect x="40" y="128" width="17" height="8" fill="#78f573"/><rect x="57" y="128" width="76" height="8" fill="#b4faaa"/><rect x="133" y="128" width="17" height="8" fill="#78f573"/><rect x="150" y="128" width="8" height="8" fill="#b4f0fa"/><rect x="158" y="128" width="9" height="8" fill="#78b9fa"/><rect x="167" y="128" width="8" height="8" fill="#3c96f5"/><rect x="175" y="128" width="8" height="8" fill="#78b9fa"/><rect x="183" y="128" width="26" height="8" fill="#b4f0fa"/><rect x="209" y="128" width="42" height="8" fill="#78f573"/><rect x="251" y="128" width="8" height="8" fill="#b4faaa"/><rect x="15" y="136" width="8" height="9" fill="#f0dab5"/><rect x="31" y="136" width="68" height="9" fill="#b4faaa"/><rect x="99" y="136" width="17" height="9" fill="#78f573"/><rect x="116" y="136" width="8" height="9" fill="#b4f0fa"/><rect x="124" y="136" width="17" height="9" fill="#78f573"/><rect x="141" y="136" width="9" height="9" fill="#b4faaa"/><rect x="150" y="136" width="8" height="9" fill="#78f573"/><rect x="158" y="136" width="9" height="9" fill="#b4f0fa"/><rect x="167" y="136" width="8" height="9" fill="#78b9fa"/><rect x="175" y="136" width="8" height="9" fill="#3c96f5"/><rect x="183" y="136" width="26" height="9" fill="#b4f0fa"/><rect x="209" y="136" width="33" height="9" fill="#78f573"/><rect x="242" y="136" width="17" height="9" fill="#b4faaa"/><rect x="31" y="145" width="9" height="8" fill="#b4faaa"/><rect x="40" y="145" width="25" height="8" fill="#78f573"/><rect x="65" y="145" width="59" height="8" fill="#b4faaa"/><rect x="124" y="145" width="17" height="8" fill="#78f573"/><rect x="141" y="145" width="17" height="8" fill="#b4faaa"/><rect x="158" y="145" width="9" height="8" fill="#78f573"/><rect x="167" y="145" width="16" height="8" fill="#b4f0fa"/><rect x="183" y="145" width="26" height="8" fill="#78f573"/><rect x="209" y="145" width="17" height="8" fill="#b4faaa"/><rect x="226" y="145" width="16" height="8" fill="#78f573"/><rect x="242" y="145" width="9" height="8" fill="#b4faaa"/><rect x="251" y="145" width="8" height="8" fill="#f0dab5"/><rect x="31" y="153" width="9" height="8" fill="#f0dab5"/><rect x="40" y="153" width="8" height="8" fill="#b4faaa"/><rect x="48" y="153" width="17" height="8" fill="#78f573"/><rect x="65" y="153" width="34" height="8" fill="#b4faaa"/><rect x="99" y="153" width="34" height="8" fill="#78f573"/><rect x="133" y="153" width="34" height="8" fill="#b4faaa"/><rect x="167" y="153" width="8" height="8" fill="#78f573"/><rect x="175" y="153" width="25" height="8" fill="#b4f0fa"/><rect x="200" y="153" width="9" height="8" fill="#78f573"/><rect x="209" y="153" width="8" height="8" fill="#b4faaa"/><rect x="217" y="153" width="17" height="8" fill="#f0dab5"/><rect x="82" y="161" width="17" height="9" fill="#f0dab5"/><rect x="99" y="161" width="25" height="9" fill="#b4faaa"/><rect x="124" y="161" width="17" height="9" fill="#78f573"/><rect x="141" y="161" width="17" height="9" fill="#b4faaa"/><rect x="158" y="161" width="42" height="9" fill="#78f573"/><rect x="200" y="161" width="9" height="9" fill="#b4faaa"/><rect x="209" y="161" width="25" height="9" fill="#f0dab5"/><rect x="82" y="170" width="17" height="8" fill="#f0dab5"/><rect x="99" y="170" width="59" height="8" fill="#b4faaa"/><rect x="158" y="170" width="17" height="8" fill="#78f573"/><rect x="175" y="170" width="51" height="8" fill="#b4faaa"/><rect x="226" y="170" width="8" height="8" fill="#f0dab5"/><rect x="82" y="178" width="34" height="9" fill="#f0dab5"/><rect x="116" y="178" width="67" height="9" fill="#b4faaa"/><rect x="183" y="178" width="9" height="9" fill="#f0dab5"/><rect x="192" y="178" width="17" height="9" fill="#b4faaa"/><rect x="209" y="178" width="8" height="9" fill="#f0dab5"/><rect x="107" y="187" width="9" height="8" fill="#f0dab5"/><rect x="116" y="187" width="25" height="8" fill="#b4faaa"/><rect x="141" y="187" width="9" height="8" fill="#f0dab5"/><rect x="150" y="187" width="8" height="8" fill="#b4faaa"/><rect x="158" y="187" width="17" height="8" fill="#f0dab5"/><rect x="107" y="195" width="26" height="9" fill="#f0dab5"/><rect x="150" y="212" width="17" height="8" fill="#f0dab5"/><rect x="141" y="220" width="17" height="9" fill="#f0dab5"/><rect x="200" y="220" width="42" height="9" fill="#f0dab5"/><rect x="133" y="229" width="8" height="8" fill="#f0dab5"/><rect x="209" y="229" width="8" height="8" fill="#f0dab5"/><rect x="217" y="229" width="17" height="8" fill="#b4faaa"/><rect x="234" y="229" width="8" height="8" fill="#f0dab5"/><rect x="124" y="237" width="9" height="9" fill="#f0dab5"/><rect x="183" y="237" width="9" height="9" fill="#f0dab5"/><rect x="200" y="237" width="9" height="9" fill="#f0dab5"/><rect x="209" y="237" width="17" height="9" fill="#b4faaa"/><rect x="226" y="237" width="8" height="9" fill="#f0dab5"/><rect x="192" y="246" width="42" height="8" fill="#f0dab5"/><rect x="158" y="254" width="17" height="9" fill="#f0dab5"/><rect x="183" y="254" width="34" height="9" fill="#f0dab5"/><rect x="6" y="263" width="51" height="5" fill="#f0dab5"/><rect x="141" y="263" width="42" height="5" fill="#f0dab5"/><rect x="192" y="263" width="25" height="5" fill="#f0dab5"/><rect x="242" y="263" width="17" height="5" fill="#f0dab5"/></svg>
<svg width="260" height="269" viewBox="0 0 260 269" shape-rendering="crispEdges"><path d="M58.3 107.9 L59.8 104.2 L64.3 102.3 L70.3 101.2 L77.7 100.5 L83.7 100.8 L89.7 102.7 L94.2 105.0 L97.2 107.9 L99.4 105.7 L103.1 106.8 L106.1 108.7 L109.1 107.9 L112.1 109.7 L115.1 109.1 L116.6 105.7 L119.6 102.7 L124.1 101.7 L128.6 102.3 L133.0 103.8 L137.5 102.7 L141.3 101.7 L143.7 101.7 L147.4 102.7 L151.2 105.3 L154.9 106.8 L158.6 106.2 L162.4 107.9 L165.4 110.2 L169.8 110.9 L173.6 109.7 L177.3 110.6 L178.8 113.2 L179.6 116.9 L181.1 119.9 L184.0 122.9 L187.8 122.9 L192.3 121.7 L198.2 121.4 L201.2 120.7 L203.5 122.9 L201.2 124.1 L195.3 124.7 L189.3 125.1 L187.0 126.6 L187.8 129.6 L192.3 129.6 L195.3 128.9 L198.2 131.1 L202.7 132.2 L206.5 133.1 L210.9 132.2 L215.4 133.4 L219.2 135.6 L222.9 139.3 L226.6 142.3 L230.4 144.6 L232.6 146.1 L231.1 149.1 L228.9 152.0 L226.6 154.3 L222.9 155.0 L222.2 158.8 L222.9 161.8 L220.7 162.5 L217.7 161.8 L216.2 158.8 L214.7 155.0 L211.7 153.5 L208.7 154.3 L206.5 152.0 L201.2 151.0 L196.7 151.6 L192.3 152.0 L187.8 152.8 L184.8 151.3 L181.1 150.5 L177.3 151.3 L174.3 153.5 L172.1 156.5 L169.1 158.8 L164.6 158.0 L160.9 158.8 L157.1 158.8 L155.6 155.8 L154.9 152.8 L152.7 152.0 L149.7 154.0 L147.4 155.0 L143.7 155.8 L140.7 157.3 L139.2 160.3 L138.5 163.3 L136.2 167.0 L133.2 170.7 L130.2 174.5 L128.0 178.2 L127.1 180.0 L124.8 177.5 L121.8 175.2 L118.8 174.5 L119.6 172.2 L118.1 169.2 L116.6 166.2 L115.1 163.3 L111.4 160.3 L107.6 158.8 L101.6 158.8 L95.7 159.5 L89.7 158.8 L83.7 159.5 L79.2 161.0 L74.7 160.3 L70.3 158.8 L64.3 158.8 L59.8 157.6 L55.3 158.0 L50.1 159.5 L47.8 162.5 L47.1 165.5 L44.8 165.9 L43.3 164.0 L40.4 161.0 L37.4 158.8 L33.6 157.3 L29.9 157.3 L26.2 155.0 L24.7 152.0 L25.4 147.6 L27.7 144.6 L32.1 143.5 L37.4 144.6 L44.8 145.3 L48.6 145.3 L47.1 146.8 L50.8 148.6 L54.6 149.8 L55.3 148.0 L59.8 148.6 L65.8 149.5 L70.3 150.5 L74.7 150.5 L77.7 152.0 L83.0 151.3 L85.9 148.0 L91.9 147.1 L94.2 148.3 L96.4 147.6 L97.9 144.6 L95.7 143.1 L91.2 140.8 L88.2 138.6 L85.2 135.6 L81.5 132.6 L80.7 130.1 L84.5 128.9 L83.0 126.6 L80.7 125.1 L82.2 122.9 L83.0 119.9 L84.5 116.9 L82.2 116.9 L78.5 115.1 L74.7 113.2 L71.7 111.2 L67.3 110.6 L62.8 111.7 L59.8 110.6 Z M116.6 105.7 L117.3 108.7 L116.6 112.4 L118.1 115.4 L118.1 119.9 L115.8 122.1 L118.1 123.6 L120.8 125.6 L118.8 128.1 L115.8 131.1 L111.4 134.1 L114.3 133.7 L117.3 136.6 L117.3 140.8 L115.1 143.1 L113.6 144.6 L107.6 145.3 L109.9 148.0 L112.1 150.5 L113.6 152.8 L116.6 154.3 L118.8 155.0 L117.3 158.0 L116.1 161.5 M64.3 134.9 L66.5 133.4 L70.3 134.1 L74.7 136.3 L78.5 137.8 L81.5 140.1 L80.7 142.3 L77.0 141.6 L73.2 140.1 L68.8 137.8 L65.8 136.6 Z M75.5 96.3 L77.7 95.2 L83.0 96.0 L86.7 97.8 L83.7 98.7 L79.2 97.9 Z M50.1 163.0 L52.3 162.4 L54.6 163.3 L53.1 164.3 L50.8 164.2 Z M0.0 75.9 L3.7 76.2 L7.4 76.2 L10.2 75.9 L11.1 77.7 L14.8 77.7 L16.7 80.8 L20.4 83.3 L22.9 86.1 L25.4 87.9 L27.2 89.5 L30.3 89.2 L32.2 88.2 L34.3 89.2 L35.7 91.0 L35.6 93.5 L33.4 93.8 L32.5 96.3 L23.5 96.7 L23.2 97.5 L12.7 97.5 L8.7 100.3 L6.2 102.5 L3.7 102.2 M244.9 162.2 L248.5 162.2 L248.5 164.6 L244.9 164.6 Z M123.8 179.4 L125.6 179.4 L125.6 181.2 L123.8 181.2 Z M10.5 1.2 L12.6 1.2 L12.6 2.7 L10.5 2.7 Z M28.3 3.6 L29.4 2.5 L31.9 3.6 L34.1 5.1 L35.5 6.5 L38.0 6.9 L41.6 6.6 L46.7 6.5 L45.6 7.9 L44.9 10.1 L45.3 12.3 L44.9 14.1 L43.1 15.5 L41.3 17.3 L39.5 19.1 L37.3 20.2 L35.5 21.3 L33.7 23.1 L31.5 24.2 L30.1 25.6 L29.7 27.4 L29.0 27.1 L29.7 24.9 L30.8 23.4 L33.0 22.0 L35.2 20.2 L37.0 18.4 L38.8 17.3 L40.9 15.5 L42.7 14.1 L43.8 12.3 L43.1 10.8 L41.6 11.2 L40.9 9.7 L41.6 8.3 L39.5 8.3 L37.3 9.0 L35.5 7.9 L33.3 8.3 L31.5 7.2 L30.5 8.7 L29.0 10.8 L27.2 13.3 L27.2 11.9 L28.7 10.1 L30.1 7.9 L30.8 6.5 L29.4 5.1 Z M31.5 14.3 L32.6 14.8 L32.6 16.2 M68.3 19.1 L69.8 15.5 L71.9 15.9 L74.1 17.0 L77.0 17.3 L79.9 17.7 L82.8 19.1 L83.9 20.6 L82.0 21.6 L79.9 20.9 L78.4 19.1 L75.6 19.3 L73.4 18.9 L71.9 20.6 L69.8 19.5 Z M71.7 47.5 L74.0 46.0 L77.0 47.1 L77.0 49.0 L74.0 50.1 L72.0 49.3 Z M50.8 62.8 L52.3 60.5 L56.1 59.0 L60.5 57.5 L62.8 59.8 L65.8 60.2 L68.8 59.0 L70.3 56.8 L72.5 53.8 L73.7 54.6 L73.2 59.8 L70.3 63.5 L68.0 65.8 L63.5 66.2 L60.5 67.3 L56.8 67.0 L52.3 68.0 L50.5 65.8 Z M95.3 39.3 L96.3 35.3 L97.1 37.5 L98.5 39.3 L102.5 39.2 L103.2 36.8 L104.6 35.0 M126.3 42.1 L125.4 44.0 L125.2 46.9 L124.1 48.6 L122.3 49.4 M120.2 53.0 L120.4 55.5 M136.4 47.3 L137.1 49.8 L138.4 50.9 L138.6 53.7" fill="none" stroke="#5e5e5e" stroke-width="1.15" stroke-linejoin="round"/><path d="M5.4 152.8 L6.9 152.8" fill="none" stroke="#606060" stroke-width="1.6"/><path d="M53.2 10.8 L59.0 11.0" fill="none" stroke="#606060" stroke-width="1.6"/><path d="M104.6 35.0 L106.8 33.0 L110.1 33.0 L111.5 35.3 L113.7 37.5" fill="none" stroke="#606060" stroke-width="2.6"/><path d="M113.7 37.5 L116.9 37.5 L119.8 39.0 L122.3 40.4 L125.2 41.1 L126.3 42.1" fill="none" stroke="#606060" stroke-width="1.8"/><path d="M91.3 43.3 L93.5 41.3" fill="none" stroke="#606060" stroke-width="1.6"/><path d="M134.4 53.7 L135.5 53.7" fill="none" stroke="#606060" stroke-width="1.8"/><path d="M47.5 145.6 L50.8 147.1 L54.6 148.6" fill="none" stroke="#606060" stroke-width="2.2"/><path d="M50.5 163.4 L54.1 163.4" fill="none" stroke="#606060" stroke-width="2.0"/><path d="M2.4 97.8 L2.5 101.8" fill="none" stroke="#606060" stroke-width="2.6"/><path d="M217.4 160.6 L222.9 162.1" fill="none" stroke="#606060" stroke-width="2.4"/><path d="M111.4 109.1 L115.1 109.4" fill="none" stroke="#606060" stroke-width="2.0"/><rect x="0.5" y="0.5" width="259" height="268" fill="none" stroke="#000" stroke-width="1" shape-rendering="crispEdges"/></svg></div>
<div class="t" style="left:288px;top:308px"><span style="left:-0.4px;transform:scaleX(0.98)">Daily</span><span style="left:38.8px;transform:scaleX(1.06)">Precip.</span><span style="left:92.0px;transform:scaleX(1.054)">Forecast</span><span style="left:157.2px;transform:scaleX(1.075)">for</span><span style="left:181.3px;transform:scaleX(0.96)">23</span><span style="left:199.8px;transform:scaleX(1.0)">A</span><span style="left:211.6px;transform:scaleX(1.064)">pr.,</span><span style="left:237.0px;transform:scaleX(1.062)">2023</span></div>
<div class="p" style="left:288px;top:328px;height:269px"><svg width="260" height="269" viewBox="0 0 260 269" shape-rendering="crispEdges"><rect x="1" y="1" width="64" height="9" fill="#f0dab5"/><rect x="65" y="1" width="26" height="9" fill="#b4faaa"/><rect x="91" y="1" width="25" height="9" fill="#f0dab5"/><rect x="116" y="1" width="59" height="9" fill="#b4faaa"/><rect x="175" y="1" width="17" height="9" fill="#78f573"/><rect x="192" y="1" width="42" height="9" fill="#b4faaa"/><rect x="234" y="1" width="8" height="9" fill="#78f573"/><rect x="242" y="1" width="17" height="9" fill="#b4faaa"/><rect x="1" y="10" width="56" height="8" fill="#f0dab5"/><rect x="65" y="10" width="9" height="8" fill="#f0dab5"/><rect x="74" y="10" width="17" height="8" fill="#b4faaa"/><rect x="91" y="10" width="33" height="8" fill="#f0dab5"/><rect x="124" y="10" width="127" height="8" fill="#b4faaa"/><rect x="251" y="10" width="8" height="8" fill="#f0dab5"/><rect x="15" y="18" width="42" height="9" fill="#f0dab5"/><rect x="65" y="18" width="93" height="9" fill="#f0dab5"/><rect x="158" y="18" width="84" height="9" fill="#b4faaa"/><rect x="242" y="18" width="17" height="9" fill="#f0dab5"/><rect x="23" y="27" width="34" height="8" fill="#f0dab5"/><rect x="74" y="27" width="76" height="8" fill="#f0dab5"/><rect x="150" y="27" width="50" height="8" fill="#b4faaa"/><rect x="200" y="27" width="9" height="8" fill="#f0dab5"/><rect x="209" y="27" width="25" height="8" fill="#b4faaa"/><rect x="234" y="27" width="8" height="8" fill="#f0dab5"/><rect x="251" y="27" width="8" height="8" fill="#f0dab5"/><rect x="31" y="35" width="17" height="8" fill="#f0dab5"/><rect x="99" y="35" width="51" height="8" fill="#f0dab5"/><rect x="150" y="35" width="17" height="8" fill="#b4faaa"/><rect x="167" y="35" width="8" height="8" fill="#f0dab5"/><rect x="175" y="35" width="8" height="8" fill="#b4faaa"/><rect x="183" y="35" width="9" height="8" fill="#f0dab5"/><rect x="192" y="35" width="25" height="8" fill="#b4faaa"/><rect x="217" y="35" width="17" height="8" fill="#f0dab5"/><rect x="40" y="43" width="8" height="9" fill="#f0dab5"/><rect x="133" y="43" width="59" height="9" fill="#f0dab5"/><rect x="192" y="43" width="8" height="9" fill="#b4faaa"/><rect x="200" y="43" width="9" height="9" fill="#f0dab5"/><rect x="158" y="52" width="17" height="8" fill="#f0dab5"/><rect x="175" y="52" width="8" height="8" fill="#b4faaa"/><rect x="183" y="52" width="17" height="8" fill="#f0dab5"/><rect x="150" y="60" width="33" height="9" fill="#f0dab5"/><rect x="124" y="69" width="34" height="8" fill="#f0dab5"/><rect x="15" y="77" width="16" height="9" fill="#f0dab5"/><rect x="99" y="77" width="42" height="9" fill="#f0dab5"/><rect x="1" y="86" width="5" height="8" fill="#f0dab5"/><rect x="6" y="86" width="25" height="8" fill="#b4faaa"/><rect x="82" y="86" width="42" height="8" fill="#f0dab5"/><rect x="175" y="86" width="42" height="8" fill="#f0dab5"/><rect x="1" y="94" width="14" height="8" fill="#b4faaa"/><rect x="15" y="94" width="8" height="8" fill="#78f573"/><rect x="23" y="94" width="8" height="8" fill="#b4faaa"/><rect x="91" y="94" width="25" height="8" fill="#f0dab5"/><rect x="158" y="94" width="42" height="8" fill="#f0dab5"/><rect x="1" y="102" width="14" height="9" fill="#b4f0fa"/><rect x="15" y="102" width="16" height="9" fill="#78f573"/><rect x="91" y="102" width="8" height="9" fill="#f0dab5"/><rect x="158" y="102" width="34" height="9" fill="#f0dab5"/><rect x="1" y="111" width="14" height="8" fill="#b4f0fa"/><rect x="15" y="111" width="16" height="8" fill="#78f573"/><rect x="31" y="111" width="9" height="8" fill="#f0dab5"/><rect x="48" y="111" width="9" height="8" fill="#b4faaa"/><rect x="82" y="111" width="9" height="8" fill="#f0dab5"/><rect x="91" y="111" width="8" height="8" fill="#b4faaa"/><rect x="99" y="111" width="8" height="8" fill="#f0dab5"/><rect x="124" y="111" width="17" height="8" fill="#f0dab5"/><rect x="141" y="111" width="34" height="8" fill="#b4faaa"/><rect x="175" y="111" width="17" height="8" fill="#f0dab5"/><rect x="1" y="119" width="5" height="9" fill="#78f573"/><rect x="6" y="119" width="17" height="9" fill="#b4f0fa"/><rect x="23" y="119" width="8" height="9" fill="#78f573"/><rect x="31" y="119" width="26" height="9" fill="#b4faaa"/><rect x="74" y="119" width="8" height="9" fill="#f0dab5"/><rect x="82" y="119" width="9" height="9" fill="#b4faaa"/><rect x="91" y="119" width="16" height="9" fill="#f0dab5"/><rect x="107" y="119" width="34" height="9" fill="#b4faaa"/><rect x="141" y="119" width="26" height="9" fill="#78f573"/><rect x="167" y="119" width="59" height="9" fill="#b4faaa"/><rect x="226" y="119" width="25" height="9" fill="#f0dab5"/><rect x="1" y="128" width="5" height="8" fill="#78f573"/><rect x="6" y="128" width="25" height="8" fill="#b4f0fa"/><rect x="31" y="128" width="9" height="8" fill="#78f573"/><rect x="40" y="128" width="8" height="8" fill="#b4faaa"/><rect x="48" y="128" width="9" height="8" fill="#f0dab5"/><rect x="74" y="128" width="33" height="8" fill="#f0dab5"/><rect x="107" y="128" width="17" height="8" fill="#b4faaa"/><rect x="124" y="128" width="17" height="8" fill="#f0dab5"/><rect x="141" y="128" width="9" height="8" fill="#b4faaa"/><rect x="150" y="128" width="8" height="8" fill="#78f573"/><rect x="158" y="128" width="9" height="8" fill="#b4f0fa"/><rect x="167" y="128" width="42" height="8" fill="#78f573"/><rect x="209" y="128" width="17" height="8" fill="#b4f0fa"/><rect x="226" y="128" width="8" height="8" fill="#78f573"/><rect x="234" y="128" width="8" height="8" fill="#b4faaa"/><rect x="242" y="128" width="9" height="8" fill="#f0dab5"/><rect x="1" y="136" width="5" height="9" fill="#b4faaa"/><rect x="6" y="136" width="25" height="9" fill="#78f573"/><rect x="31" y="136" width="17" height="9" fill="#b4faaa"/><rect x="48" y="136" width="9" height="9" fill="#f0dab5"/><rect x="74" y="136" width="8" height="9" fill="#f0dab5"/><rect x="82" y="136" width="76" height="9" fill="#b4faaa"/><rect x="158" y="136" width="34" height="9" fill="#b4f0fa"/><rect x="192" y="136" width="8" height="9" fill="#78f573"/><rect x="200" y="136" width="34" height="9" fill="#b4f0fa"/><rect x="234" y="136" width="8" height="9" fill="#78f573"/><rect x="242" y="136" width="9" height="9" fill="#b4faaa"/><rect x="251" y="136" width="8" height="9" fill="#f0dab5"/><rect x="1" y="145" width="5" height="8" fill="#b4faaa"/><rect x="6" y="145" width="9" height="8" fill="#f0dab5"/><rect x="15" y="145" width="16" height="8" fill="#b4faaa"/><rect x="31" y="145" width="9" height="8" fill="#f0dab5"/><rect x="40" y="145" width="25" height="8" fill="#b4faaa"/><rect x="65" y="145" width="9" height="8" fill="#f0dab5"/><rect x="82" y="145" width="9" height="8" fill="#f0dab5"/><rect x="91" y="145" width="42" height="8" fill="#b4faaa"/><rect x="133" y="145" width="25" height="8" fill="#78f573"/><rect x="158" y="145" width="25" height="8" fill="#b4f0fa"/><rect x="183" y="145" width="9" height="8" fill="#78f573"/><rect x="192" y="145" width="17" height="8" fill="#b4faaa"/><rect x="209" y="145" width="25" height="8" fill="#78f573"/><rect x="234" y="145" width="17" height="8" fill="#b4f0fa"/><rect x="251" y="145" width="8" height="8" fill="#b4faaa"/><rect x="1" y="153" width="5" height="8" fill="#b4faaa"/><rect x="6" y="153" width="25" height="8" fill="#f0dab5"/><rect x="31" y="153" width="9" height="8" fill="#b4faaa"/><rect x="40" y="153" width="17" height="8" fill="#78f573"/><rect x="57" y="153" width="42" height="8" fill="#b4faaa"/><rect x="99" y="153" width="25" height="8" fill="#78f573"/><rect x="124" y="153" width="9" height="8" fill="#b4f0fa"/><rect x="133" y="153" width="8" height="8" fill="#78f573"/><rect x="141" y="153" width="26" height="8" fill="#b4f0fa"/><rect x="167" y="153" width="8" height="8" fill="#78f573"/><rect x="175" y="153" width="17" height="8" fill="#b4f0fa"/><rect x="192" y="153" width="25" height="8" fill="#78f573"/><rect x="217" y="153" width="25" height="8" fill="#b4faaa"/><rect x="242" y="153" width="17" height="8" fill="#78f573"/><rect x="6" y="161" width="17" height="9" fill="#f0dab5"/><rect x="31" y="161" width="17" height="9" fill="#f0dab5"/><rect x="57" y="161" width="8" height="9" fill="#f0dab5"/><rect x="99" y="161" width="8" height="9" fill="#f0dab5"/><rect x="107" y="161" width="9" height="9" fill="#78f573"/><rect x="116" y="161" width="76" height="9" fill="#b4f0fa"/><rect x="192" y="161" width="17" height="9" fill="#78f573"/><rect x="209" y="161" width="50" height="9" fill="#b4faaa"/><rect x="57" y="170" width="17" height="8" fill="#f0dab5"/><rect x="91" y="170" width="16" height="8" fill="#f0dab5"/><rect x="107" y="170" width="9" height="8" fill="#b4faaa"/><rect x="116" y="170" width="67" height="8" fill="#b4f0fa"/><rect x="183" y="170" width="17" height="8" fill="#78f573"/><rect x="200" y="170" width="9" height="8" fill="#b4faaa"/><rect x="209" y="170" width="17" height="8" fill="#f0dab5"/><rect x="226" y="170" width="16" height="8" fill="#b4faaa"/><rect x="242" y="170" width="17" height="8" fill="#f0dab5"/><rect x="1" y="178" width="14" height="9" fill="#b4faaa"/><rect x="15" y="178" width="8" height="9" fill="#f0dab5"/><rect x="48" y="178" width="9" height="9" fill="#f0dab5"/><rect x="57" y="178" width="17" height="9" fill="#b4faaa"/><rect x="74" y="178" width="8" height="9" fill="#f0dab5"/><rect x="91" y="178" width="16" height="9" fill="#f0dab5"/><rect x="107" y="178" width="9" height="9" fill="#b4faaa"/><rect x="116" y="178" width="42" height="9" fill="#b4f0fa"/><rect x="158" y="178" width="25" height="9" fill="#78f573"/><rect x="183" y="178" width="17" height="9" fill="#b4faaa"/><rect x="200" y="178" width="9" height="9" fill="#f0dab5"/><rect x="234" y="178" width="8" height="9" fill="#f0dab5"/><rect x="1" y="187" width="14" height="8" fill="#78f573"/><rect x="15" y="187" width="16" height="8" fill="#b4faaa"/><rect x="57" y="187" width="8" height="8" fill="#f0dab5"/><rect x="65" y="187" width="26" height="8" fill="#b4faaa"/><rect x="91" y="187" width="8" height="8" fill="#f0dab5"/><rect x="107" y="187" width="9" height="8" fill="#b4faaa"/><rect x="116" y="187" width="8" height="8" fill="#78f573"/><rect x="124" y="187" width="9" height="8" fill="#b4f0fa"/><rect x="133" y="187" width="8" height="8" fill="#78f573"/><rect x="141" y="187" width="17" height="8" fill="#b4f0fa"/><rect x="158" y="187" width="17" height="8" fill="#78f573"/><rect x="175" y="187" width="8" height="8" fill="#b4faaa"/><rect x="183" y="187" width="9" height="8" fill="#f0dab5"/><rect x="1" y="195" width="30" height="9" fill="#b4faaa"/><rect x="31" y="195" width="9" height="9" fill="#f0dab5"/><rect x="40" y="195" width="17" height="9" fill="#b4faaa"/><rect x="57" y="195" width="25" height="9" fill="#f0dab5"/><rect x="82" y="195" width="34" height="9" fill="#b4faaa"/><rect x="116" y="195" width="34" height="9" fill="#78f573"/><rect x="150" y="195" width="8" height="9" fill="#b4f0fa"/><rect x="158" y="195" width="17" height="9" fill="#78f573"/><rect x="175" y="195" width="8" height="9" fill="#b4faaa"/><rect x="183" y="195" width="9" height="9" fill="#f0dab5"/><rect x="40" y="204" width="25" height="8" fill="#b4faaa"/><rect x="65" y="204" width="9" height="8" fill="#f0dab5"/><rect x="82" y="204" width="17" height="8" fill="#f0dab5"/><rect x="99" y="204" width="8" height="8" fill="#b4faaa"/><rect x="107" y="204" width="9" height="8" fill="#78f573"/><rect x="116" y="204" width="67" height="8" fill="#b4faaa"/><rect x="209" y="204" width="17" height="8" fill="#f0dab5"/><rect x="57" y="212" width="25" height="8" fill="#f0dab5"/><rect x="99" y="212" width="8" height="8" fill="#b4faaa"/><rect x="107" y="212" width="17" height="8" fill="#78f573"/><rect x="124" y="212" width="17" height="8" fill="#b4faaa"/><rect x="141" y="212" width="9" height="8" fill="#f0dab5"/><rect x="234" y="212" width="8" height="8" fill="#f0dab5"/><rect x="74" y="220" width="33" height="9" fill="#f0dab5"/><rect x="107" y="220" width="17" height="9" fill="#b4faaa"/><rect x="124" y="220" width="9" height="9" fill="#78f573"/><rect x="133" y="220" width="17" height="9" fill="#b4faaa"/><rect x="150" y="220" width="8" height="9" fill="#f0dab5"/><rect x="209" y="220" width="42" height="9" fill="#f0dab5"/><rect x="82" y="229" width="9" height="8" fill="#f0dab5"/><rect x="91" y="229" width="16" height="8" fill="#b4faaa"/><rect x="107" y="229" width="43" height="8" fill="#f0dab5"/><rect x="200" y="229" width="9" height="8" fill="#f0dab5"/><rect x="209" y="229" width="17" height="8" fill="#b4faaa"/><rect x="226" y="229" width="16" height="8" fill="#f0dab5"/><rect x="91" y="237" width="25" height="9" fill="#f0dab5"/><rect x="217" y="237" width="17" height="9" fill="#f0dab5"/></svg>
<svg width="260" height="269" viewBox="0 0 260 269" shape-rendering="crispEdges"><path d="M58.3 107.9 L59.8 104.2 L64.3 102.3 L70.3 101.2 L77.7 100.5 L83.7 100.8 L89.7 102.7 L94.2 105.0 L97.2 107.9 L99.4 105.7 L103.1 106.8 L106.1 108.7 L109.1 107.9 L112.1 109.7 L115.1 109.1 L116.6 105.7 L119.6 102.7 L124.1 101.7 L128.6 102.3 L133.0 103.8 L137.5 102.7 L141.3 101.7 L143.7 101.7 L147.4 102.7 L151.2 105.3 L154.9 106.8 L158.6 106.2 L162.4 107.9 L165.4 110.2 L169.8 110.9 L173.6 109.7 L177.3 110.6 L178.8 113.2 L179.6 116.9 L181.1 119.9 L184.0 122.9 L187.8 122.9 L192.3 121.7 L198.2 121.4 L201.2 120.7 L203.5 122.9 L201.2 124.1 L195.3 124.7 L189.3 125.1 L187.0 126.6 L187.8 129.6 L192.3 129.6 L195.3 128.9 L198.2 131.1 L202.7 132.2 L206.5 133.1 L210.9 132.2 L215.4 133.4 L219.2 135.6 L222.9 139.3 L226.6 142.3 L230.4 144.6 L232.6 146.1 L231.1 149.1 L228.9 152.0 L226.6 154.3 L222.9 155.0 L222.2 158.8 L222.9 161.8 L220.7 162.5 L217.7 161.8 L216.2 158.8 L214.7 155.0 L211.7 153.5 L208.7 154.3 L206.5 152.0 L201.2 151.0 L196.7 151.6 L192.3 152.0 L187.8 152.8 L184.8 151.3 L181.1 150.5 L177.3 151.3 L174.3 153.5 L172.1 156.5 L169.1 158.8 L164.6 158.0 L160.9 158.8 L157.1 158.8 L155.6 155.8 L154.9 152.8 L152.7 152.0 L149.7 154.0 L147.4 155.0 L143.7 155.8 L140.7 157.3 L139.2 160.3 L138.5 163.3 L136.2 167.0 L133.2 170.7 L130.2 174.5 L128.0 178.2 L127.1 180.0 L124.8 177.5 L121.8 175.2 L118.8 174.5 L119.6 172.2 L118.1 169.2 L116.6 166.2 L115.1 163.3 L111.4 160.3 L107.6 158.8 L101.6 158.8 L95.7 159.5 L89.7 158.8 L83.7 159.5 L79.2 161.0 L74.7 160.3 L70.3 158.8 L64.3 158.8 L59.8 157.6 L55.3 158.0 L50.1 159.5 L47.8 162.5 L47.1 165.5 L44.8 165.9 L43.3 164.0 L40.4 161.0 L37.4 158.8 L33.6 157.3 L29.9 157.3 L26.2 155.0 L24.7 152.0 L25.4 147.6 L27.7 144.6 L32.1 143.5 L37.4 144.6 L44.8 145.3 L48.6 145.3 L47.1 146.8 L50.8 148.6 L54.6 149.8 L55.3 148.0 L59.8 148.6 L65.8 149.5 L70.3 150.5 L74.7 150.5 L77.7 152.0 L83.0 151.3 L85.9 148.0 L91.9 147.1 L94.2 148.3 L96.4 147.6 L97.9 144.6 L95.7 143.1 L91.2 140.8 L88.2 138.6 L85.2 135.6 L81.5 132.6 L80.7 130.1 L84.5 128.9 L83.0 126.6 L80.7 125.1 L82.2 122.9 L83.0 119.9 L84.5 116.9 L82.2 116.9 L78.5 115.1 L74.7 113.2 L71.7 111.2 L67.3 110.6 L62.8 111.7 L59.8 110.6 Z M116.6 105.7 L117.3 108.7 L116.6 112.4 L118.1 115.4 L118.1 119.9 L115.8 122.1 L118.1 123.6 L120.8 125.6 L118.8 128.1 L115.8 131.1 L111.4 134.1 L114.3 133.7 L117.3 136.6 L117.3 140.8 L115.1 143.1 L113.6 144.6 L107.6 145.3 L109.9 148.0 L112.1 150.5 L113.6 152.8 L116.6 154.3 L118.8 155.0 L117.3 158.0 L116.1 161.5 M64.3 134.9 L66.5 133.4 L70.3 134.1 L74.7 136.3 L78.5 137.8 L81.5 140.1 L80.7 142.3 L77.0 141.6 L73.2 140.1 L68.8 137.8 L65.8 136.6 Z M75.5 96.3 L77.7 95.2 L83.0 96.0 L86.7 97.8 L83.7 98.7 L79.2 97.9 Z M50.1 163.0 L52.3 162.4 L54.6 163.3 L53.1 164.3 L50.8 164.2 Z M0.0 75.9 L3.7 76.2 L7.4 76.2 L10.2 75.9 L11.1 77.7 L14.8 77.7 L16.7 80.8 L20.4 83.3 L22.9 86.1 L25.4 87.9 L27.2 89.5 L30.3 89.2 L32.2 88.2 L34.3 89.2 L35.7 91.0 L35.6 93.5 L33.4 93.8 L32.5 96.3 L23.5 96.7 L23.2 97.5 L12.7 97.5 L8.7 100.3 L6.2 102.5 L3.7 102.2 M244.9 162.2 L248.5 162.2 L248.5 164.6 L244.9 164.6 Z M123.8 179.4 L125.6 179.4 L125.6 181.2 L123.8 181.2 Z M10.5 1.2 L12.6 1.2 L12.6 2.7 L10.5 2.7 Z M28.3 3.6 L29.4 2.5 L31.9 3.6 L34.1 5.1 L35.5 6.5 L38.0 6.9 L41.6 6.6 L46.7 6.5 L45.6 7.9 L44.9 10.1 L45.3 12.3 L44.9 14.1 L43.1 15.5 L41.3 17.3 L39.5 19.1 L37.3 20.2 L35.5 21.3 L33.7 23.1 L31.5 24.2 L30.1 25.6 L29.7 27.4 L29.0 27.1 L29.7 24.9 L30.8 23.4 L33.0 22.0 L35.2 20.2 L37.0 18.4 L38.8 17.3 L40.9 15.5 L42.7 14.1 L43.8 12.3 L43.1 10.8 L41.6 11.2 L40.9 9.7 L41.6 8.3 L39.5 8.3 L37.3 9.0 L35.5 7.9 L33.3 8.3 L31.5 7.2 L30.5 8.7 L29.0 10.8 L27.2 13.3 L27.2 11.9 L28.7 10.1 L30.1 7.9 L30.8 6.5 L29.4 5.1 Z M31.5 14.3 L32.6 14.8 L32.6 16.2 M68.3 19.1 L69.8 15.5 L71.9 15.9 L74.1 17.0 L77.0 17.3 L79.9 17.7 L82.8 19.1 L83.9 20.6 L82.0 21.6 L79.9 20.9 L78.4 19.1 L75.6 19.3 L73.4 18.9 L71.9 20.6 L69.8 19.5 Z M71.7 47.5 L74.0 46.0 L77.0 47.1 L77.0 49.0 L74.0 50.1 L72.0 49.3 Z M50.8 62.8 L52.3 60.5 L56.1 59.0 L60.5 57.5 L62.8 59.8 L65.8 60.2 L68.8 59.0 L70.3 56.8 L72.5 53.8 L73.7 54.6 L73.2 59.8 L70.3 63.5 L68.0 65.8 L63.5 66.2 L60.5 67.3 L56.8 67.0 L52.3 68.0 L50.5 65.8 Z M95.3 39.3 L96.3 35.3 L97.1 37.5 L98.5 39.3 L102.5 39.2 L103.2 36.8 L104.6 35.0 M126.3 42.1 L125.4 44.0 L125.2 46.9 L124.1 48.6 L122.3 49.4 M120.2 53.0 L120.4 55.5 M136.4 47.3 L137.1 49.8 L138.4 50.9 L138.6 53.7" fill="none" stroke="#5e5e5e" stroke-width="1.15" stroke-linejoin="round"/><path d="M5.4 152.8 L6.9 152.8" fill="none" stroke="#606060" stroke-width="1.6"/><path d="M53.2 10.8 L59.0 11.0" fill="none" stroke="#606060" stroke-width="1.6"/><path d="M104.6 35.0 L106.8 33.0 L110.1 33.0 L111.5 35.3 L113.7 37.5" fill="none" stroke="#606060" stroke-width="2.6"/><path d="M113.7 37.5 L116.9 37.5 L119.8 39.0 L122.3 40.4 L125.2 41.1 L126.3 42.1" fill="none" stroke="#606060" stroke-width="1.8"/><path d="M91.3 43.3 L93.5 41.3" fill="none" stroke="#606060" stroke-width="1.6"/><path d="M134.4 53.7 L135.5 53.7" fill="none" stroke="#606060" stroke-width="1.8"/><path d="M47.5 145.6 L50.8 147.1 L54.6 148.6" fill="none" stroke="#606060" stroke-width="2.2"/><path d="M50.5 163.4 L54.1 163.4" fill="none" stroke="#606060" stroke-width="2.0"/><path d="M2.4 97.8 L2.5 101.8" fill="none" stroke="#606060" stroke-width="2.6"/><path d="M217.4 160.6 L222.9 162.1" fill="none" stroke="#606060" stroke-width="2.4"/><path d="M111.4 109.1 L115.1 109.4" fill="none" stroke="#606060" stroke-width="2.0"/><rect x="0.5" y="0.5" width="259" height="268" fill="none" stroke="#000" stroke-width="1" shape-rendering="crispEdges"/></svg></div>
<div class="t" style="left:567px;top:308px"><span style="left:-0.4px;transform:scaleX(0.98)">Daily</span><span style="left:38.8px;transform:scaleX(1.06)">Precip.</span><span style="left:92.0px;transform:scaleX(1.054)">Forecast</span><span style="left:157.2px;transform:scaleX(1.075)">for</span><span style="left:181.3px;transform:scaleX(0.96)">24</span><span style="left:199.8px;transform:scaleX(1.0)">A</span><span style="left:211.6px;transform:scaleX(1.064)">pr.,</span><span style="left:237.0px;transform:scaleX(1.062)">2023</span></div>
<div class="p" style="left:567px;top:328px;height:269px"><svg width="260" height="269" viewBox="0 0 260 269" shape-rendering="crispEdges"><rect x="1" y="1" width="191" height="9" fill="#f0dab5"/><rect x="192" y="1" width="34" height="9" fill="#b4faaa"/><rect x="226" y="1" width="8" height="9" fill="#78f573"/><rect x="234" y="1" width="25" height="9" fill="#b4faaa"/><rect x="1" y="10" width="166" height="8" fill="#f0dab5"/><rect x="183" y="10" width="34" height="8" fill="#f0dab5"/><rect x="217" y="10" width="42" height="8" fill="#b4faaa"/><rect x="1" y="18" width="14" height="9" fill="#f0dab5"/><rect x="15" y="18" width="8" height="9" fill="#b4faaa"/><rect x="23" y="18" width="127" height="9" fill="#f0dab5"/><rect x="192" y="18" width="25" height="9" fill="#f0dab5"/><rect x="217" y="18" width="17" height="9" fill="#b4faaa"/><rect x="234" y="18" width="25" height="9" fill="#78f573"/><rect x="1" y="27" width="47" height="8" fill="#f0dab5"/><rect x="48" y="27" width="34" height="8" fill="#b4faaa"/><rect x="82" y="27" width="42" height="8" fill="#f0dab5"/><rect x="133" y="27" width="8" height="8" fill="#f0dab5"/><rect x="217" y="27" width="9" height="8" fill="#b4faaa"/><rect x="226" y="27" width="33" height="8" fill="#78f573"/><rect x="1" y="35" width="47" height="8" fill="#f0dab5"/><rect x="48" y="35" width="17" height="8" fill="#b4faaa"/><rect x="65" y="35" width="51" height="8" fill="#f0dab5"/><rect x="209" y="35" width="8" height="8" fill="#b4faaa"/><rect x="217" y="35" width="34" height="8" fill="#78f573"/><rect x="251" y="35" width="8" height="8" fill="#b4faaa"/><rect x="1" y="43" width="64" height="9" fill="#f0dab5"/><rect x="99" y="43" width="8" height="9" fill="#f0dab5"/><rect x="192" y="43" width="8" height="9" fill="#f0dab5"/><rect x="200" y="43" width="59" height="9" fill="#b4faaa"/><rect x="1" y="52" width="47" height="8" fill="#f0dab5"/><rect x="91" y="52" width="25" height="8" fill="#f0dab5"/><rect x="175" y="52" width="17" height="8" fill="#f0dab5"/><rect x="192" y="52" width="25" height="8" fill="#b4faaa"/><rect x="217" y="52" width="17" height="8" fill="#f0dab5"/><rect x="234" y="52" width="25" height="8" fill="#b4faaa"/><rect x="1" y="60" width="56" height="9" fill="#f0dab5"/><rect x="91" y="60" width="25" height="9" fill="#f0dab5"/><rect x="167" y="60" width="42" height="9" fill="#f0dab5"/><rect x="226" y="60" width="25" height="9" fill="#f0dab5"/><rect x="1" y="69" width="47" height="8" fill="#f0dab5"/><rect x="158" y="69" width="25" height="8" fill="#f0dab5"/><rect x="183" y="69" width="17" height="8" fill="#b4faaa"/><rect x="200" y="69" width="9" height="8" fill="#f0dab5"/><rect x="23" y="77" width="25" height="9" fill="#f0dab5"/><rect x="141" y="77" width="26" height="9" fill="#f0dab5"/><rect x="167" y="77" width="25" height="9" fill="#b4faaa"/><rect x="192" y="77" width="8" height="9" fill="#f0dab5"/><rect x="1" y="86" width="14" height="8" fill="#f0dab5"/><rect x="31" y="86" width="9" height="8" fill="#f0dab5"/><rect x="107" y="86" width="34" height="8" fill="#f0dab5"/><rect x="141" y="86" width="9" height="8" fill="#b4faaa"/><rect x="150" y="86" width="50" height="8" fill="#f0dab5"/><rect x="6" y="94" width="9" height="8" fill="#f0dab5"/><rect x="107" y="94" width="43" height="8" fill="#f0dab5"/><rect x="183" y="102" width="17" height="9" fill="#f0dab5"/><rect x="217" y="102" width="42" height="9" fill="#f0dab5"/><rect x="141" y="111" width="26" height="8" fill="#f0dab5"/><rect x="167" y="111" width="8" height="8" fill="#b4faaa"/><rect x="175" y="111" width="8" height="8" fill="#f0dab5"/><rect x="183" y="111" width="9" height="8" fill="#b4faaa"/><rect x="192" y="111" width="8" height="8" fill="#f0dab5"/><rect x="209" y="111" width="8" height="8" fill="#f0dab5"/><rect x="217" y="111" width="42" height="8" fill="#b4faaa"/><rect x="133" y="119" width="8" height="9" fill="#f0dab5"/><rect x="141" y="119" width="51" height="9" fill="#b4faaa"/><rect x="192" y="119" width="8" height="9" fill="#f0dab5"/><rect x="200" y="119" width="42" height="9" fill="#b4faaa"/><rect x="242" y="119" width="9" height="9" fill="#78f573"/><rect x="251" y="119" width="8" height="9" fill="#b4faaa"/><rect x="133" y="128" width="8" height="8" fill="#f0dab5"/><rect x="141" y="128" width="59" height="8" fill="#b4faaa"/><rect x="200" y="128" width="59" height="8" fill="#78f573"/><rect x="99" y="136" width="42" height="9" fill="#f0dab5"/><rect x="141" y="136" width="42" height="9" fill="#b4faaa"/><rect x="183" y="136" width="9" height="9" fill="#78f573"/><rect x="192" y="136" width="50" height="9" fill="#b4f0fa"/><rect x="242" y="136" width="17" height="9" fill="#78f573"/><rect x="1" y="145" width="5" height="8" fill="#f0dab5"/><rect x="65" y="145" width="34" height="8" fill="#f0dab5"/><rect x="99" y="145" width="8" height="8" fill="#b4faaa"/><rect x="107" y="145" width="17" height="8" fill="#f0dab5"/><rect x="124" y="145" width="43" height="8" fill="#b4faaa"/><rect x="167" y="145" width="8" height="8" fill="#78f573"/><rect x="175" y="145" width="42" height="8" fill="#b4faaa"/><rect x="217" y="145" width="9" height="8" fill="#b4f0fa"/><rect x="226" y="145" width="33" height="8" fill="#78f573"/><rect x="1" y="153" width="14" height="8" fill="#f0dab5"/><rect x="57" y="153" width="17" height="8" fill="#f0dab5"/><rect x="74" y="153" width="8" height="8" fill="#b4faaa"/><rect x="82" y="153" width="17" height="8" fill="#f0dab5"/><rect x="99" y="153" width="25" height="8" fill="#b4faaa"/><rect x="124" y="153" width="34" height="8" fill="#78f573"/><rect x="158" y="153" width="17" height="8" fill="#b4faaa"/><rect x="175" y="153" width="34" height="8" fill="#78f573"/><rect x="209" y="153" width="33" height="8" fill="#b4faaa"/><rect x="242" y="153" width="17" height="8" fill="#f0dab5"/><rect x="1" y="161" width="5" height="9" fill="#b4faaa"/><rect x="6" y="161" width="9" height="9" fill="#f0dab5"/><rect x="31" y="161" width="17" height="9" fill="#f0dab5"/><rect x="99" y="161" width="25" height="9" fill="#b4faaa"/><rect x="124" y="161" width="59" height="9" fill="#78f573"/><rect x="183" y="161" width="9" height="9" fill="#b4f0fa"/><rect x="192" y="161" width="17" height="9" fill="#78f573"/><rect x="209" y="161" width="17" height="9" fill="#b4faaa"/><rect x="226" y="161" width="8" height="9" fill="#f0dab5"/><rect x="242" y="161" width="9" height="9" fill="#f0dab5"/><rect x="1" y="170" width="5" height="8" fill="#f0dab5"/><rect x="6" y="170" width="9" height="8" fill="#b4faaa"/><rect x="15" y="170" width="8" height="8" fill="#f0dab5"/><rect x="31" y="170" width="9" height="8" fill="#f0dab5"/><rect x="40" y="170" width="8" height="8" fill="#b4faaa"/><rect x="48" y="170" width="17" height="8" fill="#f0dab5"/><rect x="107" y="170" width="9" height="8" fill="#f0dab5"/><rect x="116" y="170" width="25" height="8" fill="#b4faaa"/><rect x="141" y="170" width="17" height="8" fill="#78f573"/><rect x="158" y="170" width="17" height="8" fill="#b4f0fa"/><rect x="175" y="170" width="25" height="8" fill="#78f573"/><rect x="200" y="170" width="26" height="8" fill="#b4faaa"/><rect x="242" y="170" width="9" height="8" fill="#b4faaa"/><rect x="251" y="170" width="8" height="8" fill="#f0dab5"/><rect x="6" y="178" width="17" height="9" fill="#f0dab5"/><rect x="31" y="178" width="17" height="9" fill="#f0dab5"/><rect x="48" y="178" width="26" height="9" fill="#b4faaa"/><rect x="74" y="178" width="17" height="9" fill="#f0dab5"/><rect x="107" y="178" width="9" height="9" fill="#f0dab5"/><rect x="116" y="178" width="8" height="9" fill="#b4faaa"/><rect x="124" y="178" width="17" height="9" fill="#78f573"/><rect x="141" y="178" width="17" height="9" fill="#b4f0fa"/><rect x="158" y="178" width="59" height="9" fill="#78f573"/><rect x="217" y="178" width="9" height="9" fill="#b4faaa"/><rect x="226" y="178" width="25" height="9" fill="#f0dab5"/><rect x="251" y="178" width="8" height="9" fill="#b4faaa"/><rect x="40" y="187" width="8" height="8" fill="#f0dab5"/><rect x="65" y="187" width="9" height="8" fill="#f0dab5"/><rect x="107" y="187" width="9" height="8" fill="#f0dab5"/><rect x="116" y="187" width="25" height="8" fill="#b4faaa"/><rect x="141" y="187" width="51" height="8" fill="#78f573"/><rect x="192" y="187" width="25" height="8" fill="#b4faaa"/><rect x="217" y="187" width="9" height="8" fill="#f0dab5"/><rect x="234" y="187" width="25" height="8" fill="#b4faaa"/><rect x="1" y="195" width="14" height="9" fill="#b4faaa"/><rect x="15" y="195" width="8" height="9" fill="#f0dab5"/><rect x="99" y="195" width="17" height="9" fill="#f0dab5"/><rect x="116" y="195" width="59" height="9" fill="#b4faaa"/><rect x="175" y="195" width="17" height="9" fill="#78f573"/><rect x="192" y="195" width="25" height="9" fill="#b4faaa"/><rect x="217" y="195" width="17" height="9" fill="#f0dab5"/><rect x="234" y="195" width="25" height="9" fill="#b4faaa"/><rect x="1" y="204" width="5" height="8" fill="#f0dab5"/><rect x="6" y="204" width="17" height="8" fill="#b4faaa"/><rect x="141" y="204" width="9" height="8" fill="#f0dab5"/><rect x="150" y="204" width="42" height="8" fill="#b4faaa"/><rect x="192" y="204" width="17" height="8" fill="#78f573"/><rect x="209" y="204" width="8" height="8" fill="#b4faaa"/><rect x="234" y="204" width="8" height="8" fill="#b4faaa"/><rect x="242" y="204" width="17" height="8" fill="#78f573"/><rect x="1" y="212" width="5" height="8" fill="#f0dab5"/><rect x="6" y="212" width="9" height="8" fill="#b4faaa"/><rect x="15" y="212" width="8" height="8" fill="#f0dab5"/><rect x="150" y="212" width="8" height="8" fill="#f0dab5"/><rect x="158" y="212" width="25" height="8" fill="#b4faaa"/><rect x="183" y="212" width="9" height="8" fill="#78f573"/><rect x="192" y="212" width="8" height="8" fill="#b4faaa"/><rect x="200" y="212" width="9" height="8" fill="#78f573"/><rect x="209" y="212" width="8" height="8" fill="#b4faaa"/><rect x="242" y="212" width="9" height="8" fill="#b4faaa"/><rect x="251" y="212" width="8" height="8" fill="#78f573"/><rect x="99" y="220" width="17" height="9" fill="#f0dab5"/><rect x="116" y="220" width="93" height="9" fill="#b4faaa"/><rect x="242" y="220" width="9" height="9" fill="#f0dab5"/><rect x="251" y="220" width="8" height="9" fill="#b4faaa"/><rect x="116" y="229" width="8" height="8" fill="#f0dab5"/><rect x="124" y="229" width="9" height="8" fill="#b4faaa"/><rect x="133" y="229" width="8" height="8" fill="#78f573"/><rect x="141" y="229" width="17" height="8" fill="#b4faaa"/><rect x="158" y="229" width="9" height="8" fill="#78f573"/><rect x="167" y="229" width="25" height="8" fill="#b4faaa"/><rect x="192" y="229" width="8" height="8" fill="#f0dab5"/><rect x="133" y="237" width="8" height="9" fill="#f0dab5"/><rect x="141" y="237" width="17" height="9" fill="#b4faaa"/><rect x="158" y="237" width="25" height="9" fill="#78f573"/><rect x="183" y="237" width="9" height="9" fill="#b4faaa"/><rect x="150" y="246" width="17" height="8" fill="#b4faaa"/><rect x="167" y="246" width="8" height="8" fill="#78f573"/><rect x="175" y="246" width="8" height="8" fill="#b4faaa"/><rect x="183" y="246" width="9" height="8" fill="#f0dab5"/><rect x="141" y="254" width="17" height="9" fill="#f0dab5"/><rect x="167" y="254" width="8" height="9" fill="#f0dab5"/></svg>
<svg width="260" height="269" viewBox="0 0 260 269" shape-rendering="crispEdges"><path d="M58.3 107.9 L59.8 104.2 L64.3 102.3 L70.3 101.2 L77.7 100.5 L83.7 100.8 L89.7 102.7 L94.2 105.0 L97.2 107.9 L99.4 105.7 L103.1 106.8 L106.1 108.7 L109.1 107.9 L112.1 109.7 L115.1 109.1 L116.6 105.7 L119.6 102.7 L124.1 101.7 L128.6 102.3 L133.0 103.8 L137.5 102.7 L141.3 101.7 L143.7 101.7 L147.4 102.7 L151.2 105.3 L154.9 106.8 L158.6 106.2 L162.4 107.9 L165.4 110.2 L169.8 110.9 L173.6 109.7 L177.3 110.6 L178.8 113.2 L179.6 116.9 L181.1 119.9 L184.0 122.9 L187.8 122.9 L192.3 121.7 L198.2 121.4 L201.2 120.7 L203.5 122.9 L201.2 124.1 L195.3 124.7 L189.3 125.1 L187.0 126.6 L187.8 129.6 L192.3 129.6 L195.3 128.9 L198.2 131.1 L202.7 132.2 L206.5 133.1 L210.9 132.2 L215.4 133.4 L219.2 135.6 L222.9 139.3 L226.6 142.3 L230.4 144.6 L232.6 146.1 L231.1 149.1 L228.9 152.0 L226.6 154.3 L222.9 155.0 L222.2 158.8 L222.9 161.8 L220.7 162.5 L217.7 161.8 L216.2 158.8 L214.7 155.0 L211.7 153.5 L208.7 154.3 L206.5 152.0 L201.2 151.0 L196.7 151.6 L192.3 152.0 L187.8 152.8 L184.8 151.3 L181.1 150.5 L177.3 151.3 L174.3 153.5 L172.1 156.5 L169.1 158.8 L164.6 158.0 L160.9 158.8 L157.1 158.8 L155.6 155.8 L154.9 152.8 L152.7 152.0 L149.7 154.0 L147.4 155.0 L143.7 155.8 L140.7 157.3 L139.2 160.3 L138.5 163.3 L136.2 167.0 L133.2 170.7 L130.2 174.5 L128.0 178.2 L127.1 180.0 L124.8 177.5 L121.8 175.2 L118.8 174.5 L119.6 172.2 L118.1 169.2 L116.6 166.2 L115.1 163.3 L111.4 160.3 L107.6 158.8 L101.6 158.8 L95.7 159.5 L89.7 158.8 L83.7 159.5 L79.2 161.0 L74.7 160.3 L70.3 158.8 L64.3 158.8 L59.8 157.6 L55.3 158.0 L50.1 159.5 L47.8 162.5 L47.1 165.5 L44.8 165.9 L43.3 164.0 L40.4 161.0 L37.4 158.8 L33.6 157.3 L29.9 157.3 L26.2 155.0 L24.7 152.0 L25.4 147.6 L27.7 144.6 L32.1 143.5 L37.4 144.6 L44.8 145.3 L48.6 145.3 L47.1 146.8 L50.8 148.6 L54.6 149.8 L55.3 148.0 L59.8 148.6 L65.8 149.5 L70.3 150.5 L74.7 150.5 L77.7 152.0 L83.0 151.3 L85.9 148.0 L91.9 147.1 L94.2 148.3 L96.4 147.6 L97.9 144.6 L95.7 143.1 L91.2 140.8 L88.2 138.6 L85.2 135.6 L81.5 132.6 L80.7 130.1 L84.5 128.9 L83.0 126.6 L80.7 125.1 L82.2 122.9 L83.0 119.9 L84.5 116.9 L82.2 116.9 L78.5 115.1 L74.7 113.2 L71.7 111.2 L67.3 110.6 L62.8 111.7 L59.8 110.6 Z M116.6 105.7 L117.3 108.7 L116.6 112.4 L118.1 115.4 L118.1 119.9 L115.8 122.1 L118.1 123.6 L120.8 125.6 L118.8 128.1 L115.8 131.1 L111.4 134.1 L114.3 133.7 L117.3 136.6 L117.3 140.8 L115.1 143.1 L113.6 144.6 L107.6 145.3 L109.9 148.0 L112.1 150.5 L113.6 152.8 L116.6 154.3 L118.8 155.0 L117.3 158.0 L116.1 161.5 M64.3 134.9 L66.5 133.4 L70.3 134.1 L74.7 136.3 L78.5 137.8 L81.5 140.1 L80.7 142.3 L77.0 141.6 L73.2 140.1 L68.8 137.8 L65.8 136.6 Z M75.5 96.3 L77.7 95.2 L83.0 96.0 L86.7 97.8 L83.7 98.7 L79.2 97.9 Z M50.1 163.0 L52.3 162.4 L54.6 163.3 L53.1 164.3 L50.8 164.2 Z M0.0 75.9 L3.7 76.2 L7.4 76.2 L10.2 75.9 L11.1 77.7 L14.8 77.7 L16.7 80.8 L20.4 83.3 L22.9 86.1 L25.4 87.9 L27.2 89.5 L30.3 89.2 L32.2 88.2 L34.3 89.2 L35.7 91.0 L35.6 93.5 L33.4 93.8 L32.5 96.3 L23.5 96.7 L23.2 97.5 L12.7 97.5 L8.7 100.3 L6.2 102.5 L3.7 102.2 M244.9 162.2 L248.5 162.2 L248.5 164.6 L244.9 164.6 Z M123.8 179.4 L125.6 179.4 L125.6 181.2 L123.8 181.2 Z M10.5 1.2 L12.6 1.2 L12.6 2.7 L10.5 2.7 Z M28.3 3.6 L29.4 2.5 L31.9 3.6 L34.1 5.1 L35.5 6.5 L38.0 6.9 L41.6 6.6 L46.7 6.5 L45.6 7.9 L44.9 10.1 L45.3 12.3 L44.9 14.1 L43.1 15.5 L41.3 17.3 L39.5 19.1 L37.3 20.2 L35.5 21.3 L33.7 23.1 L31.5 24.2 L30.1 25.6 L29.7 27.4 L29.0 27.1 L29.7 24.9 L30.8 23.4 L33.0 22.0 L35.2 20.2 L37.0 18.4 L38.8 17.3 L40.9 15.5 L42.7 14.1 L43.8 12.3 L43.1 10.8 L41.6 11.2 L40.9 9.7 L41.6 8.3 L39.5 8.3 L37.3 9.0 L35.5 7.9 L33.3 8.3 L31.5 7.2 L30.5 8.7 L29.0 10.8 L27.2 13.3 L27.2 11.9 L28.7 10.1 L30.1 7.9 L30.8 6.5 L29.4 5.1 Z M31.5 14.3 L32.6 14.8 L32.6 16.2 M68.3 19.1 L69.8 15.5 L71.9 15.9 L74.1 17.0 L77.0 17.3 L79.9 17.7 L82.8 19.1 L83.9 20.6 L82.0 21.6 L79.9 20.9 L78.4 19.1 L75.6 19.3 L73.4 18.9 L71.9 20.6 L69.8 19.5 Z M71.7 47.5 L74.0 46.0 L77.0 47.1 L77.0 49.0 L74.0 50.1 L72.0 49.3 Z M50.8 62.8 L52.3 60.5 L56.1 59.0 L60.5 57.5 L62.8 59.8 L65.8 60.2 L68.8 59.0 L70.3 56.8 L72.5 53.8 L73.7 54.6 L73.2 59.8 L70.3 63.5 L68.0 65.8 L63.5 66.2 L60.5 67.3 L56.8 67.0 L52.3 68.0 L50.5 65.8 Z M95.3 39.3 L96.3 35.3 L97.1 37.5 L98.5 39.3 L102.5 39.2 L103.2 36.8 L104.6 35.0 M126.3 42.1 L125.4 44.0 L125.2 46.9 L124.1 48.6 L122.3 49.4 M120.2 53.0 L120.4 55.5 M136.4 47.3 L137.1 49.8 L138.4 50.9 L138.6 53.7" fill="none" stroke="#5e5e5e" stroke-width="1.15" stroke-linejoin="round"/><path d="M5.4 152.8 L6.9 152.8" fill="none" stroke="#606060" stroke-width="1.6"/><path d="M53.2 10.8 L59.0 11.0" fill="none" stroke="#606060" stroke-width="1.6"/><path d="M104.6 35.0 L106.8 33.0 L110.1 33.0 L111.5 35.3 L113.7 37.5" fill="none" stroke="#606060" stroke-width="2.6"/><path d="M113.7 37.5 L116.9 37.5 L119.8 39.0 L122.3 40.4 L125.2 41.1 L126.3 42.1" fill="none" stroke="#606060" stroke-width="1.8"/><path d="M91.3 43.3 L93.5 41.3" fill="none" stroke="#606060" stroke-width="1.6"/><path d="M134.4 53.7 L135.5 53.7" fill="none" stroke="#606060" stroke-width="1.8"/><path d="M47.5 145.6 L50.8 147.1 L54.6 148.6" fill="none" stroke="#606060" stroke-width="2.2"/><path d="M50.5 163.4 L54.1 163.4" fill="none" stroke="#606060" stroke-width="2.0"/><path d="M2.4 97.8 L2.5 101.8" fill="none" stroke="#606060" stroke-width="2.6"/><path d="M217.4 160.6 L222.9 162.1" fill="none" stroke="#606060" stroke-width="2.4"/><path d="M111.4 109.1 L115.1 109.4" fill="none" stroke="#606060" stroke-width="2.0"/><rect x="0.5" y="0.5" width="259" height="268" fill="none" stroke="#000" stroke-width="1" shape-rendering="crispEdges"/></svg></div>
<div class="r" style="left:836px;top:30.9px;font-weight:bold;font-size:18px;line-height:20.6px;letter-spacing:0.45px">Precip.<br>Forecast</div>
<div class="r" style="left:836px;top:97.8px;font-size:16px;line-height:17.8px">as of<br>Apr 19, 2023</div>
<div class="r" style="left:836px;top:166.6px;font-size:16px;line-height:18.1px">Daily<br>Totals</div>
<div class="r" style="left:836px;top:251.9px;font-size:16px;line-height:18.5px">Data:<br>NOAA-<br>GFS</div>
<div class="r" style="left:836px;top:357.8px;font-weight:bold;font-size:13.33px;letter-spacing:0.3px;line-height:15px">PPT (mm)</div>
<div class="lb" style="top:377.95px;letter-spacing:0.13px">0 - 0.1</div>
<div class="lb" style="top:395.20px;letter-spacing:0.13px">0.1 - 1</div>
<div class="lb" style="top:412.45px;letter-spacing:0.5px">1 - 5</div>
<div class="lb" style="top:429.70px;letter-spacing:0.37px">5 - 10</div>
<div class="lb" style="top:446.95px;letter-spacing:0.5px">10 - 20</div>
<div class="lb" style="top:464.20px;letter-spacing:0.5px">20 - 30</div>
<div class="lb" style="top:481.45px;letter-spacing:0.5px">30 - 40</div>
<div class="lb" style="top:498.70px;letter-spacing:0.5px">40 - 50</div>
<div class="lb" style="top:515.95px;letter-spacing:0.5px">50 - 65</div>
<div class="lb" style="top:533.20px;letter-spacing:0.5px">65 - 80</div>
<div class="lb" style="top:550.45px;letter-spacing:0.5px">80 - 100</div>
<div class="lb" style="top:567.70px;letter-spacing:0.47px">&gt; 100</div>
<div class="lb" style="top:584.95px;letter-spacing:0.5px">No Data</div>
<svg style="position:absolute;left:830px;top:370px" width="40" height="235" viewBox="830 370 40 235"><rect x="836.5" y="377.5" width="25" height="13" fill="#ffffff" stroke="#6e6e6e" stroke-width="1" shape-rendering="crispEdges"/><rect x="836.5" y="394.5" width="25" height="13" fill="#f0dab5" stroke="#6e6e6e" stroke-width="1" shape-rendering="crispEdges"/><rect x="836.5" y="412.5" width="25" height="13" fill="#b4faaa" stroke="#6e6e6e" stroke-width="1" shape-rendering="crispEdges"/><rect x="836.5" y="429.5" width="25" height="13" fill="#78f573" stroke="#6e6e6e" stroke-width="1" shape-rendering="crispEdges"/><rect x="836.5" y="446.5" width="25" height="13" fill="#b4f0fa" stroke="#6e6e6e" stroke-width="1" shape-rendering="crispEdges"/><rect x="836.5" y="463.5" width="25" height="13" fill="#78b9fa" stroke="#6e6e6e" stroke-width="1" shape-rendering="crispEdges"/><rect x="836.5" y="481.5" width="25" height="13" fill="#3c96f5" stroke="#6e6e6e" stroke-width="1" shape-rendering="crispEdges"/><rect x="836.5" y="498.5" width="25" height="13" fill="#1e6eeb" stroke="#6e6e6e" stroke-width="1" shape-rendering="crispEdges"/><rect x="836.5" y="515.5" width="25" height="13" fill="#ffe878" stroke="#6e6e6e" stroke-width="1" shape-rendering="crispEdges"/><rect x="836.5" y="532.5" width="25" height="13" fill="#ffa000" stroke="#6e6e6e" stroke-width="1" shape-rendering="crispEdges"/><rect x="836.5" y="549.5" width="25" height="13" fill="#ff3200" stroke="#6e6e6e" stroke-width="1" shape-rendering="crispEdges"/><rect x="836.5" y="567.5" width="25" height="13" fill="#a51e1e" stroke="#6e6e6e" stroke-width="1" shape-rendering="crispEdges"/><rect x="836.5" y="584.5" width="25" height="13" fill="#9c9c9c" stroke="#6e6e6e" stroke-width="1" shape-rendering="crispEdges"/></svg>
<div class="r" style="left:10px;top:608.8px;font-size:12px;letter-spacing:-0.05px;line-height:14px">Map produced by USGS/EROS</div>
<svg style="position:absolute;left:570px;top:600px" width="262" height="35" viewBox="570 600 262 35">
<!-- USGS -->
<g>
<rect x="577.1" y="607.1" width="13.7" height="14.7" fill="#0b7a48"/>
<g fill="none" stroke="#fff" stroke-width="0.8" stroke-opacity="0.92">
<path d="M577.1 610.6 C581 611.4 583 614.2 585.2 615.4 C587.2 616.6 589 617.4 590.8 617.6"/>
<path d="M577.1 612.2 C581 613 583 615.6 585.2 616.8 C587.2 618 589 618.8 590.8 619"/>
<path d="M577.1 613.8 C581 614.6 583 617 585.2 618.2 C587.2 619.2 589 620 590.8 620.2"/>
<path d="M577.1 616.4 C580 615.6 583 613.2 585 611.8 C587 610.4 589 609.4 590.8 609.2"/>
<path d="M577.1 617.8 C580 617 583 614.6 585 613.2 C587 611.8 589 610.8 590.8 610.6"/>
<path d="M577.1 615 C580 614.2 583 611.8 585 610.4 C587 609.2 589 608.2 590.8 608"/>
</g>
<text x="592.6" y="621.8" font-family="Liberation Sans, sans-serif" font-weight="bold" font-size="20.5" fill="#0b7a48" stroke="#0b7a48" stroke-width="1.1" textLength="39.8" lengthAdjust="spacingAndGlyphs">USGS</text>
<text x="577.1" y="626.8" font-family="Liberation Sans, sans-serif" font-weight="bold" font-style="italic" font-size="4.4" fill="#0b7a48" textLength="55.3" lengthAdjust="spacingAndGlyphs">science for a changing world</text>
</g>
<!-- NOAA -->
<g>
<circle cx="648" cy="616.9" r="10.7" fill="#fff" stroke="#cfc8d4" stroke-width="0.7"/>
<clipPath id="nc"><circle cx="648" cy="616.9" r="9.6"/></clipPath>
<g clip-path="url(#nc)">
<rect x="636" y="605" width="24" height="24" fill="#1e9df2"/>
<path d="M636 605 H660 V611.4 L648.2 619.4 L639.4 611.6 Z" fill="#14146e"/>
<path d="M637.2 612.6 C641.5 614 645 617.4 647.8 621.2 C650.2 616.8 654.6 612.4 659.8 610.2 L658.4 607.4 C653.6 610.2 650.2 614.6 648.1 617.6 C645.6 614.8 642.4 612 638.6 610.4 Z" fill="#fff"/>
</g>
<text x="647.9" y="613.6" text-anchor="middle" font-family="Liberation Sans, sans-serif" font-weight="bold" font-size="3.1" fill="#e6ebf7">NOAA</text>
</g>
<!-- USAID seal -->
<g>
<circle cx="674.1" cy="616.9" r="9.7" fill="#fff" stroke="#6f87b8" stroke-width="2.3"/>
<circle cx="674.1" cy="616.9" r="8.4" fill="#fff" stroke="#fff" stroke-width="0.5"/>
<rect x="669" y="611.1" width="10.2" height="2.6" fill="#203a7c"/>
<path d="M669.4 617.6 C671.5 615.6 675 615.4 678.6 617.4 C676 618.8 672 619 669.4 617.6 Z" fill="#7f93bd"/>
<path d="M669 620.3 H679.2 V621.9 H669 Z" fill="#203a7c"/>
<path d="M669.6 621.9 H678.6 L676.6 623.9 L674.1 624.6 L671.6 623.9 Z" fill="#d03048"/>
</g>
<!-- USAID text -->
<g font-family="Liberation Sans, sans-serif" font-weight="bold">
<text x="686.8" y="620.9" font-size="15.8" fill="#002a6c" textLength="23.4" lengthAdjust="spacingAndGlyphs" stroke="#002a6c" stroke-width="0.4">US</text>
<text x="710.4" y="620.9" font-size="15.8" fill="#c2113a" textLength="29.6" lengthAdjust="spacingAndGlyphs" stroke="#c2113a" stroke-width="0.4">AID</text>
<text x="687" y="625.6" font-size="3.2" font-weight="normal" fill="#44599a" textLength="53" lengthAdjust="spacingAndGlyphs">FROM THE AMERICAN PEOPLE</text>
</g>
<!-- FEWS NET -->
<g>
<g fill="none" stroke-width="1.5" stroke-dasharray="3.2 0.9 1.2 0.9">
<path d="M748.60 611.11 A9.4 9.4 0 0 1 761.84 609.95" stroke="#26221f"/>
<path d="M750.41 624.85 A9.4 9.4 0 0 1 747.66 612.45" stroke="#b8621b"/>
<path d="M761.84 624.35 A9.4 9.4 0 0 1 750.82 625.12" stroke="#f07d28"/>
<path d="M762.45 610.50 A9.4 9.4 0 0 1 762.45 623.80" stroke="#a9d9d4" stroke-width="1.1"/>
</g>
<circle cx="755.8" cy="617.15" r="7.6" fill="#fff" stroke="#8fcfc6" stroke-width="0.4"/>
<path d="M748.8 613.6 C749.6 611.8 751.4 610.8 753 610.6 C754.2 610.4 755 610.8 754.6 611.8 C754 612.8 753 613.2 753.2 614.4 C753.6 615.4 755 615.8 754.8 617 C754.4 618.4 753 618.8 752.8 620.2 C752.6 621.4 751.8 622.6 750.8 622.4 C750 621.4 750.4 620 750 618.8 C749.4 617.2 748.2 615.6 748.8 613.6 Z" fill="#0d5c45"/>
<path d="M757.4 612.6 C758.6 611.6 760.6 611.6 761.8 612.6 C763 613.8 763.4 615.8 763 617.6 C762.6 619.4 761.4 621.2 760 622.6 C759 623.6 758 623.2 758 622 C758 620.6 758.2 619.6 757.6 618.6 C756.8 617.4 756 616.6 756.4 615.2 C756.6 614.2 756.6 613.4 757.4 612.6 Z" fill="#0d5c45"/>
<path d="M759.6 614.6 C760.4 614.4 761.2 615 761.4 615.8" fill="none" stroke="#fff" stroke-width="0.5"/>
<text x="769.4" y="621.5" font-family="Liberation Sans, sans-serif" font-weight="bold" font-size="11.4" fill="#26302c" textLength="53.6" lengthAdjust="spacingAndGlyphs">FEWS NET</text>
</g>
</svg>

</body></html>
